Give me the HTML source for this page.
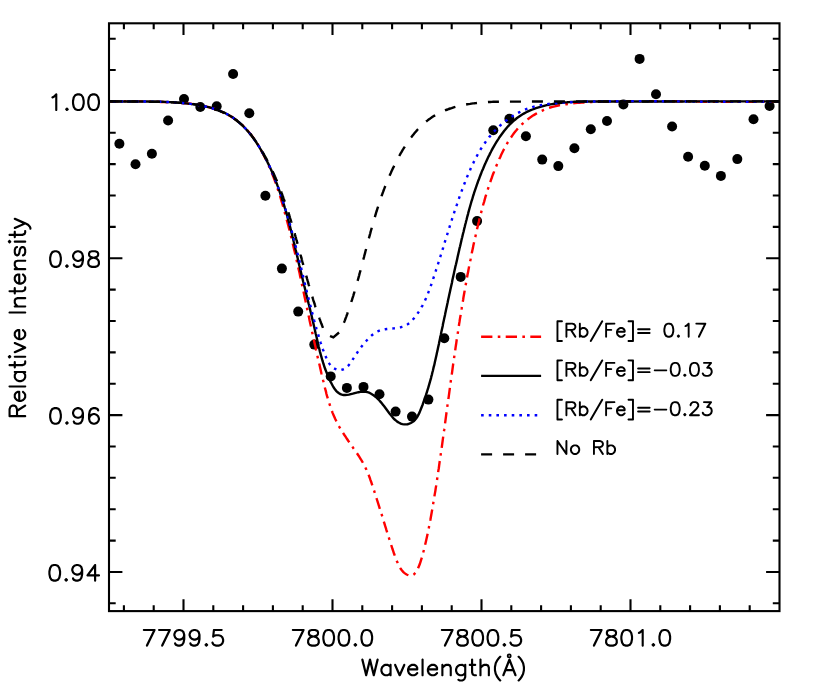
<!DOCTYPE html>
<html><head><meta charset="utf-8"><title>Rb plot</title>
<style>html,body{margin:0;padding:0;background:#fff;font-family:"Liberation Sans",sans-serif}svg{display:block}</style></head>
<body>
<svg width="830" height="692" viewBox="0 0 830 692">
<rect width="830" height="692" fill="#fff"/>
<defs><clipPath id="c"><rect x="109.0" y="23.3" width="670.5" height="587.8"/></clipPath></defs>
<g fill="#000">
<circle cx="119.4" cy="143.8" r="5.0"/>
<circle cx="135.5" cy="164.3" r="5.0"/>
<circle cx="151.9" cy="153.8" r="5.0"/>
<circle cx="168.1" cy="120.5" r="5.0"/>
<circle cx="184.0" cy="99.0" r="5.0"/>
<circle cx="200.3" cy="107.0" r="5.0"/>
<circle cx="216.7" cy="106.2" r="5.0"/>
<circle cx="233.1" cy="74.0" r="5.0"/>
<circle cx="249.3" cy="113.2" r="5.0"/>
<circle cx="265.4" cy="195.7" r="5.0"/>
<circle cx="281.9" cy="268.6" r="5.0"/>
<circle cx="298.2" cy="311.6" r="5.0"/>
<circle cx="314.3" cy="344.6" r="5.0"/>
<circle cx="330.7" cy="376.4" r="5.0"/>
<circle cx="346.9" cy="387.9" r="5.0"/>
<circle cx="363.5" cy="386.9" r="5.0"/>
<circle cx="379.5" cy="394.2" r="5.0"/>
<circle cx="395.6" cy="411.6" r="5.0"/>
<circle cx="412.0" cy="416.6" r="5.0"/>
<circle cx="428.4" cy="399.6" r="5.0"/>
<circle cx="444.3" cy="338.2" r="5.0"/>
<circle cx="460.7" cy="276.9" r="5.0"/>
<circle cx="477.1" cy="221.1" r="5.0"/>
<circle cx="493.3" cy="130.2" r="5.0"/>
<circle cx="509.4" cy="118.8" r="5.0"/>
<circle cx="525.9" cy="136.2" r="5.0"/>
<circle cx="542.2" cy="159.6" r="5.0"/>
<circle cx="558.3" cy="166.1" r="5.0"/>
<circle cx="574.4" cy="148.2" r="5.0"/>
<circle cx="590.8" cy="129.2" r="5.0"/>
<circle cx="607.0" cy="121.0" r="5.0"/>
<circle cx="623.4" cy="104.5" r="5.0"/>
<circle cx="639.6" cy="58.9" r="5.0"/>
<circle cx="656.0" cy="94.2" r="5.0"/>
<circle cx="672.1" cy="126.5" r="5.0"/>
<circle cx="688.1" cy="156.7" r="5.0"/>
<circle cx="704.8" cy="165.8" r="5.0"/>
<circle cx="720.9" cy="175.9" r="5.0"/>
<circle cx="737.3" cy="159.1" r="5.0"/>
<circle cx="753.5" cy="119.2" r="5.0"/>
<circle cx="769.6" cy="106.0" r="5.0"/>
</g>
<g fill="none" stroke-width="2.40" clip-path="url(#c)">
<path d="M109.0 101.5L111.3 101.5L113.6 101.4L115.8 101.4L118.1 101.4L120.4 101.4L122.7 101.3L124.9 101.3L127.2 101.3L129.5 101.3L131.8 101.4L134.0 101.4L136.3 101.4L138.6 101.4L140.8 101.4L143.1 101.5L145.4 101.5L147.6 101.6L149.9 101.6L152.2 101.7L154.4 101.7L156.7 101.8L159.0 101.9L161.2 102.0L163.5 102.0L165.8 102.1L168.1 102.2L170.3 102.3L172.6 102.4L174.9 102.5L177.2 102.7L179.4 102.8L181.7 103.0L184.0 103.1L186.3 103.3L188.5 103.6L190.8 103.8L193.0 104.1L195.3 104.4L197.5 104.8L199.8 105.1L202.0 105.6L204.2 106.1L206.4 106.6L208.6 107.1L210.8 107.8L213.0 108.4L215.2 109.2L217.3 109.9L219.4 110.8L221.5 111.7L223.6 112.6L225.6 113.6L227.6 114.7L229.6 115.8L231.6 116.9L233.5 118.1L235.3 119.4L237.2 120.8L238.9 122.1L240.7 123.6L242.4 125.1L244.0 126.7L245.6 128.3L247.1 129.9L248.6 131.7L250.0 133.4L251.4 135.2L252.8 137.0L254.1 138.9L255.4 140.8L256.7 142.7L257.9 144.7L259.0 146.6L260.2 148.6L261.3 150.6L262.4 152.6L263.5 154.6L264.5 156.6L265.5 158.7L266.5 160.7L267.5 162.8L268.4 164.8L269.3 166.9L270.2 169.0L271.1 171.1L272.0 173.2L272.8 175.3L273.6 177.4L274.4 179.5L275.2 181.7L275.9 183.8L276.7 185.9L277.4 188.1L278.1 190.2L278.8 192.4L279.5 194.5L280.2 196.7L280.9 198.9L281.5 201.1L282.2 203.2L282.8 205.4L283.4 207.6L284.0 209.8L284.6 212.0L285.2 214.2L285.8 216.4L286.4 218.6L287.0 220.7L287.6 222.9L288.2 225.1L288.7 227.3L289.3 229.5L289.9 231.8L290.4 234.0L291.0 236.2L291.5 238.4L292.0 240.6L292.6 242.8L293.1 245.0L293.6 247.2L294.1 249.4L294.7 251.7L295.2 253.9L295.7 256.1L296.2 258.3L296.7 260.5L297.2 262.7L297.7 265.0L298.2 267.2L298.7 269.4L299.2 271.6L299.7 273.8L300.1 276.1L300.6 278.3L301.1 280.5L301.6 282.7L302.1 285.0L302.5 287.2L303.0 289.4L303.5 291.6L304.0 293.9L304.4 296.1L304.9 298.3L305.4 300.5L305.9 302.8L306.3 305.0L306.8 307.2L307.3 309.4L307.7 311.6L308.2 313.9L308.7 316.1L309.2 318.3L309.6 320.5L310.1 322.7L310.6 324.9L311.1 327.2L311.6 329.4L312.0 331.6L312.5 333.8L313.0 336.0L313.5 338.2L314.0 340.5L314.5 342.7L315.0 344.9L315.5 347.1L315.9 349.3L316.4 351.5L316.9 353.7L317.4 356.0L317.9 358.2L318.5 360.4L319.0 362.6L319.5 364.8L320.0 367.0L320.5 369.2L321.0 371.5L321.5 373.7L322.1 375.9L322.6 378.1L323.1 380.3L323.7 382.6L324.2 384.8L324.7 387.0L325.3 389.2L325.9 391.4L326.4 393.7L327.0 395.9L327.7 398.1L328.3 400.2L329.0 402.4L329.7 404.6L330.4 406.7L331.1 408.9L331.9 411.0L332.7 413.1L333.6 415.2L334.5 417.3L335.4 419.3L336.4 421.3L337.4 423.3L338.5 425.3L339.6 427.3L340.8 429.2L342.0 431.2L343.2 433.1L344.4 435.0L345.7 436.9L346.9 438.8L348.2 440.7L349.5 442.5L350.8 444.4L352.1 446.3L353.4 448.2L354.7 450.0L356.0 451.9L357.3 453.8L358.6 455.7L359.8 457.6L361.0 459.5L362.1 461.4L363.3 463.4L364.3 465.4L365.3 467.4L366.3 469.4L367.2 471.5L368.1 473.5L368.9 475.6L369.7 477.7L370.4 479.9L371.2 482.0L371.9 484.2L372.6 486.4L373.3 488.6L374.1 490.7L374.8 492.9L375.5 495.1L376.2 497.3L376.9 499.5L377.6 501.7L378.3 503.9L379.0 506.1L379.7 508.3L380.4 510.5L381.1 512.6L381.8 514.8L382.4 516.9L383.1 519.1L383.7 521.2L384.4 523.3L385.0 525.4L385.7 527.5L386.3 529.6L387.0 531.8L387.6 533.9L388.3 536.0L389.0 538.1L389.7 540.3L390.4 542.4L391.1 544.6L391.8 546.8L392.5 549.0L393.3 551.3L394.0 553.5L394.8 555.8L395.7 558.1L396.5 560.4L397.5 562.6L398.4 564.8L399.5 566.9L400.7 568.8L402.0 570.5L403.4 572.1L404.9 573.4L406.6 574.5L408.5 575.3L410.4 575.6L412.3 575.4L414.0 574.3L415.5 572.7L416.8 570.6L418.0 568.4L418.9 566.2L419.8 564.0L420.5 561.8L421.2 559.6L421.9 557.4L422.5 555.1L423.1 552.9L423.7 550.7L424.3 548.5L424.8 546.3L425.3 544.1L425.8 541.9L426.3 539.7L426.8 537.5L427.3 535.2L427.8 533.0L428.2 530.8L428.7 528.6L429.1 526.4L429.5 524.2L429.9 521.9L430.4 519.7L430.8 517.5L431.2 515.3L431.6 513.0L432.0 510.8L432.4 508.6L432.8 506.3L433.1 504.1L433.5 501.8L433.9 499.6L434.3 497.4L434.6 495.1L435.0 492.9L435.4 490.6L435.7 488.4L436.1 486.1L436.4 483.9L436.8 481.7L437.1 479.4L437.4 477.2L437.8 474.9L438.1 472.7L438.4 470.4L438.8 468.2L439.1 465.9L439.4 463.6L439.7 461.4L440.1 459.1L440.4 456.9L440.7 454.6L441.0 452.4L441.3 450.1L441.7 447.9L442.0 445.6L442.3 443.4L442.6 441.1L442.9 438.9L443.2 436.6L443.5 434.4L443.8 432.1L444.2 429.9L444.5 427.6L444.8 425.4L445.1 423.1L445.4 420.8L445.7 418.6L446.0 416.3L446.3 414.1L446.6 411.8L446.9 409.6L447.2 407.3L447.5 405.1L447.8 402.8L448.1 400.6L448.5 398.3L448.8 396.1L449.1 393.8L449.4 391.6L449.7 389.3L450.0 387.1L450.3 384.8L450.6 382.6L450.9 380.3L451.2 378.1L451.6 375.8L451.9 373.6L452.2 371.3L452.5 369.1L452.8 366.8L453.1 364.6L453.5 362.3L453.8 360.1L454.1 357.8L454.4 355.6L454.8 353.3L455.1 351.1L455.4 348.8L455.7 346.6L456.1 344.3L456.4 342.1L456.7 339.8L457.1 337.6L457.4 335.4L457.8 333.1L458.1 330.9L458.4 328.6L458.8 326.4L459.1 324.1L459.5 321.9L459.8 319.6L460.2 317.4L460.6 315.1L460.9 312.9L461.3 310.7L461.7 308.4L462.0 306.2L462.4 303.9L462.8 301.7L463.2 299.4L463.5 297.2L463.9 295.0L464.3 292.7L464.7 290.5L465.1 288.2L465.5 286.0L465.9 283.8L466.3 281.5L466.7 279.3L467.1 277.1L467.5 274.8L468.0 272.6L468.4 270.3L468.8 268.1L469.2 265.9L469.7 263.7L470.1 261.4L470.6 259.2L471.0 257.0L471.5 254.7L471.9 252.5L472.4 250.3L472.9 248.1L473.3 245.8L473.8 243.6L474.3 241.4L474.8 239.2L475.3 237.0L475.8 234.8L476.3 232.5L476.8 230.3L477.3 228.1L477.8 225.9L478.3 223.7L478.9 221.5L479.4 219.3L480.0 217.1L480.5 214.9L481.1 212.7L481.7 210.5L482.2 208.3L482.8 206.1L483.4 204.0L484.1 201.8L484.7 199.6L485.3 197.4L486.0 195.2L486.6 193.1L487.3 190.9L488.0 188.8L488.7 186.6L489.4 184.4L490.2 182.3L490.9 180.2L491.7 178.0L492.4 175.9L493.2 173.8L494.1 171.6L494.9 169.5L495.7 167.4L496.6 165.3L497.5 163.2L498.4 161.1L499.3 159.0L500.3 156.9L501.2 154.8L502.2 152.8L503.2 150.7L504.3 148.7L505.4 146.7L506.5 144.7L507.6 142.7L508.8 140.8L510.0 138.8L511.3 137.0L512.6 135.1L513.9 133.3L515.3 131.5L516.8 129.8L518.2 128.1L519.8 126.4L521.4 124.8L523.0 123.3L524.7 121.8L526.4 120.3L528.2 118.9L530.1 117.6L531.9 116.3L533.8 115.1L535.8 113.9L537.8 112.8L539.8 111.7L541.8 110.8L543.9 109.9L546.0 109.0L548.2 108.2L550.3 107.5L552.5 106.9L554.7 106.3L557.0 105.8L559.2 105.3L561.4 104.9L563.7 104.5L566.0 104.2L568.2 103.9L570.5 103.6L572.8 103.4L575.0 103.1L577.3 102.9L579.6 102.8L581.8 102.6L584.1 102.5L586.3 102.3L588.6 102.2L590.9 102.1L593.1 102.0L595.4 101.9L597.7 101.8L599.9 101.8L602.2 101.7L604.5 101.6L606.7 101.6L609.0 101.5L611.3 101.4L613.5 101.4L615.8 101.4L618.1 101.3L620.3 101.3L622.6 101.2L624.9 101.2L627.2 101.2L629.4 101.2L631.7 101.2L634.0 101.1L636.2 101.1L638.5 101.1L640.8 101.1L643.1 101.1L645.3 101.1L647.6 101.1L649.9 101.1L652.2 101.1L654.4 101.1L656.7 101.2L659.0 101.2L661.3 101.2L663.5 101.2L665.8 101.2L668.1 101.2L670.4 101.3L672.6 101.3L674.9 101.3L677.2 101.3L679.5 101.4L681.7 101.4L684.0 101.4L686.3 101.4L688.6 101.5L690.9 101.5L693.1 101.5L695.4 101.6L697.7 101.6L700.0 101.6L702.2 101.6L704.5 101.7L706.8 101.7L709.1 101.7L711.3 101.7L713.6 101.8L715.9 101.8L718.2 101.8L720.4 101.8L722.7 101.9L725.0 101.9L727.3 101.9L729.5 101.9L731.8 101.9L734.1 101.9L736.4 101.9L738.6 101.9L740.9 101.9L743.2 101.9L745.5 101.9L747.7 101.9L750.0 101.9L752.3 101.9L754.5 101.9L756.8 101.9L759.1 101.8L761.4 101.8L763.6 101.8L765.9 101.7L768.2 101.7L770.4 101.6L772.7 101.6L775.0 101.5L777.2 101.5L779.5 101.4" stroke="#ff0000" stroke-dasharray="11.3 5.35 2.6 5.35" stroke-dashoffset="1.76"/>
<path d="M108.9 101.4L110.8 101.4L112.7 101.5L114.6 101.5L116.5 101.5L118.3 101.5L120.2 101.5L122.1 101.5L123.9 101.5L125.8 101.5L127.6 101.5L129.5 101.5L131.3 101.5L133.2 101.5L135.0 101.5L136.9 101.5L138.7 101.5L140.5 101.5L142.4 101.5L144.2 101.5L146.0 101.5L147.9 101.5L149.7 101.6L151.5 101.6L153.3 101.6L155.2 101.6L157.0 101.7L158.8 101.7L160.7 101.8L162.5 101.8L164.3 101.9L166.1 102.0L168.0 102.0L169.8 102.1L171.6 102.2L173.5 102.3L175.3 102.5L177.2 102.6L179.0 102.7L180.9 102.9L182.7 103.1L184.6 103.2L186.4 103.4L188.3 103.6L190.2 103.9L192.0 104.1L193.9 104.4L195.8 104.6L197.6 104.9L199.5 105.3L201.3 105.6L203.2 106.0L205.0 106.4L206.8 106.8L208.7 107.2L210.5 107.7L212.3 108.2L214.0 108.8L215.8 109.3L217.5 109.9L219.3 110.6L221.0 111.3L222.6 112.0L224.3 112.7L225.9 113.5L227.5 114.4L229.1 115.3L230.7 116.2L232.2 117.1L233.7 118.2L235.1 119.2L236.6 120.3L238.0 121.5L239.4 122.6L240.7 123.8L242.1 125.1L243.4 126.4L244.6 127.7L245.9 129.0L247.1 130.4L248.3 131.8L249.5 133.2L250.7 134.6L251.8 136.1L252.9 137.6L254.0 139.1L255.1 140.6L256.1 142.2L257.2 143.8L258.2 145.3L259.2 146.9L260.1 148.5L261.1 150.2L262.0 151.8L262.9 153.4L263.8 155.1L264.7 156.7L265.6 158.4L266.4 160.0L267.3 161.7L268.1 163.4L268.9 165.0L269.7 166.7L270.5 168.4L271.2 170.1L272.0 171.8L272.7 173.4L273.4 175.1L274.1 176.8L274.8 178.5L275.5 180.3L276.1 182.0L276.8 183.7L277.4 185.4L278.1 187.1L278.7 188.9L279.3 190.6L279.9 192.3L280.5 194.1L281.1 195.8L281.7 197.5L282.2 199.3L282.8 201.0L283.3 202.8L283.9 204.6L284.4 206.3L284.9 208.1L285.5 209.8L286.0 211.6L286.5 213.4L287.0 215.2L287.5 216.9L287.9 218.7L288.4 220.5L288.9 222.3L289.4 224.1L289.8 225.9L290.3 227.6L290.7 229.4L291.2 231.2L291.6 233.0L292.1 234.8L292.5 236.6L293.0 238.4L293.4 240.2L293.8 242.0L294.3 243.8L294.7 245.6L295.1 247.4L295.5 249.2L296.0 251.0L296.4 252.8L296.8 254.6L297.2 256.4L297.7 258.3L298.1 260.1L298.5 261.9L298.9 263.7L299.3 265.5L299.8 267.3L300.2 269.1L300.6 270.9L301.1 272.7L301.5 274.5L301.9 276.3L302.4 278.1L302.8 279.9L303.2 281.7L303.7 283.5L304.1 285.3L304.6 287.1L305.0 288.9L305.5 290.7L305.9 292.5L306.3 294.3L306.8 296.1L307.2 297.9L307.7 299.7L308.1 301.4L308.5 303.2L309.0 305.0L309.4 306.8L309.9 308.6L310.3 310.4L310.7 312.2L311.2 314.0L311.6 315.8L312.0 317.6L312.4 319.4L312.9 321.2L313.3 323.0L313.7 324.8L314.1 326.5L314.5 328.3L314.9 330.1L315.3 331.9L315.7 333.7L316.2 335.5L316.6 337.3L317.0 339.1L317.4 340.9L317.8 342.7L318.2 344.5L318.6 346.2L319.1 348.0L319.5 349.8L319.9 351.6L320.4 353.4L320.9 355.2L321.4 356.9L321.9 358.7L322.4 360.5L323.0 362.3L323.5 364.0L324.1 365.8L324.7 367.6L325.3 369.3L326.0 371.1L326.7 372.8L327.4 374.6L328.1 376.3L328.9 378.1L329.7 379.8L330.5 381.6L331.4 383.3L332.3 385.0L333.2 386.7L334.2 388.3L335.3 389.7L336.4 391.1L337.7 392.3L339.0 393.3L340.4 394.1L341.9 394.7L343.5 395.0L345.2 395.0L347.0 394.9L348.9 394.6L350.8 394.1L352.8 393.7L354.7 393.1L356.7 392.6L358.5 392.2L360.4 391.9L362.2 391.7L364.0 391.7L365.7 391.8L367.4 392.2L369.1 392.7L370.7 393.5L372.3 394.4L373.9 395.5L375.4 396.7L376.8 397.9L378.1 399.2L379.4 400.5L380.6 401.9L381.8 403.3L382.9 404.7L384.0 406.1L385.1 407.5L386.2 409.0L387.3 410.5L388.4 412.0L389.5 413.5L390.8 415.1L392.0 416.6L393.3 418.1L394.7 419.5L396.1 420.7L397.6 421.9L399.2 422.8L400.7 423.6L402.4 424.1L404.1 424.4L405.8 424.4L407.6 424.2L409.3 423.7L410.9 423.0L412.4 422.1L413.9 421.0L415.1 419.7L416.3 418.3L417.3 416.8L418.2 415.1L419.1 413.4L419.9 411.6L420.6 409.8L421.3 408.0L422.0 406.2L422.7 404.5L423.3 402.7L423.9 400.9L424.6 399.2L425.2 397.4L425.8 395.7L426.3 393.9L426.9 392.2L427.4 390.4L428.0 388.7L428.5 386.9L429.0 385.2L429.5 383.4L430.0 381.7L430.5 379.9L431.0 378.1L431.4 376.3L431.9 374.6L432.3 372.8L432.8 371.0L433.2 369.2L433.6 367.4L434.1 365.7L434.5 363.9L434.9 362.1L435.3 360.3L435.7 358.5L436.1 356.7L436.5 354.9L436.9 353.1L437.3 351.3L437.7 349.4L438.1 347.6L438.5 345.8L438.9 344.0L439.2 342.2L439.6 340.4L440.0 338.6L440.4 336.8L440.8 335.0L441.1 333.1L441.5 331.3L441.9 329.5L442.3 327.7L442.7 325.9L443.0 324.1L443.4 322.3L443.8 320.5L444.2 318.6L444.6 316.8L445.0 315.0L445.3 313.2L445.7 311.4L446.1 309.6L446.5 307.8L446.9 305.9L447.3 304.1L447.7 302.3L448.0 300.5L448.4 298.7L448.8 296.9L449.2 295.1L449.6 293.3L450.0 291.5L450.4 289.6L450.8 287.8L451.2 286.0L451.6 284.2L452.0 282.4L452.3 280.6L452.7 278.8L453.1 277.0L453.5 275.2L453.9 273.4L454.3 271.6L454.7 269.8L455.1 267.9L455.5 266.1L456.0 264.3L456.4 262.5L456.8 260.7L457.2 258.9L457.6 257.1L458.0 255.3L458.4 253.5L458.8 251.7L459.2 249.9L459.6 248.1L460.1 246.3L460.5 244.5L460.9 242.7L461.3 240.9L461.7 239.1L462.2 237.3L462.6 235.5L463.0 233.8L463.5 232.0L463.9 230.2L464.3 228.4L464.8 226.6L465.2 224.8L465.7 223.0L466.1 221.2L466.6 219.5L467.0 217.7L467.5 215.9L468.0 214.1L468.4 212.3L468.9 210.6L469.4 208.8L469.9 207.0L470.4 205.2L470.9 203.5L471.4 201.7L472.0 200.0L472.5 198.2L473.0 196.4L473.6 194.7L474.1 192.9L474.7 191.2L475.3 189.4L475.9 187.7L476.5 185.9L477.1 184.2L477.7 182.5L478.3 180.7L479.0 179.0L479.6 177.3L480.3 175.5L481.0 173.8L481.6 172.1L482.3 170.4L483.1 168.7L483.8 167.0L484.5 165.3L485.3 163.6L486.0 161.9L486.8 160.2L487.6 158.5L488.4 156.8L489.3 155.1L490.1 153.4L491.0 151.8L491.8 150.1L492.7 148.4L493.6 146.8L494.6 145.1L495.5 143.5L496.5 141.9L497.5 140.3L498.5 138.8L499.5 137.2L500.6 135.7L501.7 134.2L502.8 132.7L503.9 131.2L505.1 129.8L506.2 128.4L507.4 127.0L508.7 125.7L509.9 124.3L511.2 123.1L512.5 121.8L513.9 120.6L515.3 119.5L516.7 118.3L518.1 117.3L519.6 116.2L521.1 115.2L522.6 114.3L524.2 113.4L525.8 112.5L527.4 111.7L529.1 110.9L530.8 110.2L532.5 109.5L534.2 108.8L535.9 108.2L537.7 107.6L539.5 107.1L541.2 106.6L543.1 106.1L544.9 105.6L546.7 105.2L548.5 104.8L550.4 104.4L552.2 104.1L554.1 103.8L556.0 103.5L557.8 103.2L559.7 103.0L561.6 102.8L563.4 102.6L565.3 102.4L567.1 102.3L569.0 102.1L570.8 102.0L572.7 101.9L574.5 101.8L576.4 101.7L578.2 101.6L580.0 101.6L581.9 101.6L583.7 101.5L585.5 101.5L587.4 101.5L589.2 101.5L591.0 101.5L592.9 101.5L594.7 101.5L596.5 101.5L598.3 101.5L600.2 101.5L602.0 101.5L603.8 101.5L605.7 101.5L607.5 101.5L609.3 101.5L611.2 101.5L613.0 101.5L614.9 101.5L616.7 101.5L618.5 101.5L620.4 101.5L622.2 101.5L624.1 101.5L625.9 101.5L627.8 101.5L629.6 101.5L631.5 101.5L633.3 101.5L635.1 101.5L637.0 101.5L638.8 101.5L640.7 101.5L642.5 101.5L644.4 101.5L646.3 101.5L648.1 101.5L650.0 101.5L651.8 101.5L653.7 101.5L655.5 101.5L657.4 101.5L659.2 101.5L661.1 101.5L662.9 101.5L664.8 101.5L666.7 101.5L668.5 101.5L670.4 101.5L672.2 101.5L674.1 101.5L675.9 101.5L677.8 101.5L679.7 101.5L681.5 101.5L683.4 101.5L685.2 101.4L687.1 101.4L689.0 101.4L690.8 101.4L692.7 101.4L694.5 101.4L696.4 101.4L698.2 101.4L700.1 101.4L702.0 101.4L703.8 101.4L705.7 101.4L707.5 101.4L709.4 101.4L711.2 101.4L713.1 101.4L715.0 101.4L716.8 101.4L718.7 101.4L720.5 101.4L722.4 101.4L724.2 101.4L726.1 101.4L727.9 101.4L729.8 101.4L731.6 101.4L733.5 101.4L735.3 101.4L737.2 101.4L739.0 101.4L740.9 101.4L742.7 101.4L744.6 101.4L746.4 101.4L748.3 101.4L750.1 101.4L752.0 101.4L753.8 101.4L755.6 101.4L757.5 101.4L759.3 101.4L761.2 101.4L763.0 101.4L764.8 101.4L766.7 101.4L768.5 101.4L770.3 101.4L772.2 101.4L774.0 101.4L775.8 101.4L777.7 101.4L779.5 101.5" stroke="#000"/>
<path d="M108.9 101.4L110.6 101.4L112.3 101.5L114.0 101.5L115.7 101.5L117.4 101.5L119.1 101.5L120.8 101.5L122.5 101.5L124.2 101.5L125.9 101.5L127.5 101.5L129.2 101.5L130.9 101.5L132.6 101.5L134.2 101.5L135.9 101.5L137.6 101.5L139.2 101.5L140.9 101.5L142.5 101.5L144.2 101.5L145.8 101.5L147.5 101.5L149.2 101.6L150.8 101.6L152.5 101.6L154.1 101.6L155.8 101.6L157.4 101.7L159.1 101.7L160.7 101.8L162.4 101.8L164.1 101.9L165.7 101.9L167.4 102.0L169.0 102.1L170.7 102.2L172.4 102.3L174.0 102.4L175.7 102.5L177.4 102.6L179.0 102.7L180.7 102.9L182.4 103.0L184.0 103.2L185.7 103.4L187.4 103.5L189.1 103.7L190.8 103.9L192.5 104.2L194.2 104.4L195.8 104.7L197.5 104.9L199.2 105.2L200.9 105.5L202.6 105.8L204.2 106.2L205.9 106.6L207.5 106.9L209.2 107.4L210.8 107.8L212.4 108.3L214.0 108.8L215.6 109.3L217.2 109.8L218.7 110.4L220.3 111.0L221.8 111.6L223.3 112.3L224.8 113.0L226.3 113.7L227.7 114.5L229.2 115.3L230.6 116.1L231.9 117.0L233.3 117.9L234.6 118.9L235.9 119.8L237.2 120.8L238.5 121.9L239.8 123.0L241.0 124.1L242.2 125.2L243.4 126.3L244.5 127.5L245.7 128.7L246.8 130.0L247.9 131.2L249.0 132.5L250.0 133.8L251.1 135.1L252.1 136.4L253.1 137.8L254.1 139.2L255.1 140.6L256.0 142.0L257.0 143.4L257.9 144.8L258.8 146.2L259.7 147.7L260.6 149.1L261.4 150.6L262.3 152.1L263.1 153.6L263.9 155.1L264.7 156.5L265.5 158.0L266.2 159.5L267.0 161.0L267.7 162.5L268.5 164.1L269.2 165.6L269.9 167.1L270.6 168.6L271.2 170.1L271.9 171.6L272.6 173.2L273.2 174.7L273.9 176.2L274.5 177.8L275.1 179.3L275.7 180.9L276.3 182.4L276.9 184.0L277.5 185.5L278.0 187.1L278.6 188.6L279.2 190.2L279.7 191.8L280.3 193.3L280.8 194.9L281.3 196.5L281.9 198.1L282.4 199.6L282.9 201.2L283.4 202.8L283.9 204.4L284.4 206.0L284.9 207.6L285.4 209.2L285.9 210.8L286.4 212.4L286.9 214.0L287.3 215.6L287.8 217.2L288.3 218.8L288.7 220.4L289.2 222.0L289.7 223.6L290.1 225.2L290.6 226.8L291.0 228.4L291.5 230.0L291.9 231.7L292.3 233.3L292.8 234.9L293.2 236.5L293.6 238.1L294.0 239.8L294.5 241.4L294.9 243.0L295.3 244.6L295.7 246.3L296.1 247.9L296.5 249.5L297.0 251.1L297.4 252.8L297.8 254.4L298.2 256.0L298.6 257.7L299.0 259.3L299.4 260.9L299.8 262.5L300.2 264.2L300.6 265.8L301.0 267.4L301.4 269.1L301.8 270.7L302.2 272.3L302.6 274.0L303.0 275.6L303.4 277.2L303.7 278.8L304.1 280.5L304.5 282.1L304.9 283.7L305.3 285.4L305.7 287.0L306.1 288.6L306.5 290.2L306.9 291.9L307.3 293.5L307.7 295.1L308.1 296.7L308.5 298.3L308.9 300.0L309.3 301.6L309.7 303.2L310.1 304.8L310.6 306.4L311.0 308.0L311.4 309.6L311.8 311.2L312.2 312.8L312.6 314.4L313.1 316.0L313.5 317.6L313.9 319.2L314.3 320.8L314.8 322.4L315.2 324.0L315.7 325.6L316.1 327.2L316.5 328.8L317.0 330.4L317.5 332.0L317.9 333.5L318.4 335.1L318.8 336.7L319.3 338.3L319.8 339.9L320.3 341.5L320.8 343.1L321.4 344.7L321.9 346.3L322.5 347.9L323.0 349.6L323.6 351.2L324.2 352.9L324.9 354.6L325.6 356.3L326.3 357.9L327.0 359.5L327.8 361.1L328.6 362.6L329.5 363.9L330.5 365.2L331.6 366.4L332.7 367.4L333.9 368.3L335.2 369.0L336.6 369.5L338.1 369.9L339.6 370.0L341.2 369.9L342.7 369.5L344.2 368.9L345.6 368.0L346.9 367.0L348.1 365.8L349.3 364.5L350.4 363.1L351.4 361.7L352.3 360.2L353.3 358.7L354.2 357.3L355.1 355.8L356.0 354.4L357.0 353.0L357.9 351.6L358.9 350.3L359.8 348.9L360.8 347.6L361.8 346.3L362.8 345.0L363.8 343.7L364.9 342.5L366.0 341.2L367.1 340.0L368.3 338.7L369.4 337.5L370.7 336.3L371.9 335.2L373.2 334.2L374.6 333.2L376.0 332.3L377.4 331.5L378.9 330.8L380.4 330.2L382.0 329.8L383.6 329.5L385.3 329.2L386.9 329.0L388.6 328.8L390.3 328.7L392.0 328.5L393.7 328.4L395.4 328.2L397.1 327.9L398.8 327.6L400.5 327.3L402.1 326.8L403.7 326.3L405.2 325.7L406.6 324.9L408.0 324.1L409.4 323.1L410.6 322.0L411.8 320.8L412.9 319.5L414.0 318.3L415.1 316.9L416.1 315.6L417.1 314.3L418.0 312.9L418.9 311.5L419.8 310.1L420.7 308.7L421.5 307.2L422.3 305.8L423.1 304.3L423.8 302.8L424.6 301.3L425.3 299.8L426.0 298.3L426.6 296.8L427.3 295.2L427.9 293.7L428.5 292.1L429.1 290.6L429.7 289.0L430.3 287.4L430.8 285.8L431.4 284.3L431.9 282.7L432.5 281.1L433.0 279.5L433.5 277.9L434.1 276.3L434.6 274.7L435.1 273.1L435.6 271.5L436.1 269.9L436.7 268.3L437.2 266.7L437.7 265.1L438.2 263.5L438.7 261.9L439.2 260.3L439.7 258.7L440.2 257.1L440.7 255.5L441.2 254.0L441.7 252.4L442.2 250.8L442.7 249.2L443.2 247.6L443.6 246.0L444.1 244.4L444.6 242.8L445.1 241.2L445.6 239.6L446.1 238.0L446.6 236.4L447.1 234.8L447.6 233.2L448.1 231.6L448.6 230.0L449.1 228.4L449.6 226.8L450.1 225.2L450.6 223.6L451.1 222.1L451.6 220.5L452.1 218.9L452.6 217.3L453.2 215.7L453.7 214.1L454.2 212.5L454.7 210.9L455.2 209.4L455.8 207.8L456.3 206.2L456.9 204.6L457.4 203.0L457.9 201.5L458.5 199.9L459.0 198.3L459.6 196.7L460.2 195.2L460.7 193.6L461.3 192.0L461.9 190.4L462.5 188.9L463.1 187.3L463.6 185.7L464.2 184.2L464.9 182.6L465.5 181.1L466.1 179.5L466.7 177.9L467.3 176.4L468.0 174.8L468.6 173.3L469.3 171.8L470.0 170.2L470.6 168.7L471.3 167.2L472.0 165.6L472.7 164.1L473.5 162.6L474.2 161.1L475.0 159.6L475.7 158.1L476.5 156.7L477.3 155.2L478.1 153.7L478.9 152.3L479.8 150.9L480.6 149.4L481.5 148.0L482.4 146.6L483.3 145.2L484.3 143.8L485.2 142.5L486.2 141.1L487.2 139.8L488.2 138.5L489.2 137.1L490.3 135.9L491.4 134.6L492.5 133.3L493.6 132.1L494.8 130.8L495.9 129.6L497.1 128.4L498.3 127.3L499.5 126.1L500.8 125.0L502.0 123.9L503.3 122.8L504.6 121.7L505.9 120.7L507.3 119.7L508.6 118.7L510.0 117.7L511.4 116.8L512.8 115.9L514.2 115.0L515.6 114.2L517.1 113.4L518.6 112.6L520.0 111.9L521.5 111.1L523.0 110.5L524.5 109.8L526.1 109.2L527.6 108.7L529.2 108.1L530.7 107.6L532.3 107.1L533.9 106.7L535.5 106.3L537.1 105.9L538.7 105.5L540.4 105.2L542.0 104.9L543.6 104.6L545.3 104.4L546.9 104.1L548.6 103.9L550.3 103.7L551.9 103.5L553.6 103.4L555.3 103.2L557.0 103.1L558.6 102.9L560.3 102.8L562.0 102.7L563.7 102.6L565.4 102.5L567.1 102.4L568.8 102.4L570.5 102.3L572.2 102.2L573.9 102.2L575.5 102.1L577.2 102.0L578.9 102.0L580.6 101.9L582.3 101.8L584.0 101.8L585.7 101.7L587.3 101.7L589.0 101.6L590.7 101.6L592.4 101.6L594.1 101.5L595.7 101.5L597.4 101.4L599.1 101.4L600.8 101.4L602.5 101.3L604.1 101.3L605.8 101.3L607.5 101.3L609.2 101.2L610.8 101.2L612.5 101.2L614.2 101.2L615.8 101.2L617.5 101.2L619.2 101.1L620.9 101.1L622.5 101.1L624.2 101.1L625.9 101.1L627.5 101.1L629.2 101.1L630.9 101.1L632.5 101.1L634.2 101.1L635.9 101.1L637.5 101.1L639.2 101.1L640.9 101.1L642.5 101.1L644.2 101.1L645.9 101.1L647.5 101.1L649.2 101.1L650.9 101.1L652.5 101.2L654.2 101.2L655.8 101.2L657.5 101.2L659.2 101.2L660.8 101.2L662.5 101.2L664.2 101.3L665.8 101.3L667.5 101.3L669.2 101.3L670.8 101.3L672.5 101.3L674.1 101.4L675.8 101.4L677.5 101.4L679.1 101.4L680.8 101.4L682.5 101.4L684.1 101.5L685.8 101.5L687.4 101.5L689.1 101.5L690.8 101.5L692.4 101.6L694.1 101.6L695.8 101.6L697.4 101.6L699.1 101.6L700.8 101.7L702.4 101.7L704.1 101.7L705.7 101.7L707.4 101.7L709.1 101.7L710.7 101.7L712.4 101.8L714.1 101.8L715.7 101.8L717.4 101.8L719.1 101.8L720.8 101.8L722.4 101.8L724.1 101.8L725.8 101.9L727.4 101.9L729.1 101.9L730.8 101.9L732.4 101.9L734.1 101.9L735.8 101.9L737.5 101.9L739.1 101.9L740.8 101.9L742.5 101.9L744.2 101.9L745.8 101.9L747.5 101.9L749.2 101.9L750.9 101.8L752.6 101.8L754.2 101.8L755.9 101.8L757.6 101.8L759.3 101.8L761.0 101.8L762.6 101.7L764.3 101.7L766.0 101.7L767.7 101.7L769.4 101.6L771.1 101.6L772.8 101.6L774.5 101.5L776.1 101.5L777.8 101.5L779.5 101.4" stroke="#0000ff" stroke-dasharray="2.6 5.05" stroke-dashoffset="3.71"/>
<path d="M109.0 101.4L109.9 101.4L110.8 101.4L111.7 101.4L112.6 101.4L113.5 101.4L114.4 101.4L115.3 101.4L116.3 101.4L117.2 101.4L118.1 101.4L119.0 101.4L119.9 101.4L120.8 101.4L121.7 101.4L122.6 101.4L123.5 101.4L124.4 101.4L125.3 101.4L126.2 101.4L127.1 101.5L128.0 101.5L128.9 101.5L129.7 101.5L130.6 101.5L131.5 101.5L132.4 101.5L133.3 101.5L134.2 101.5L135.1 101.5L136.0 101.5L136.9 101.5L137.8 101.5L138.7 101.5L139.6 101.5L140.5 101.5L141.4 101.5L142.3 101.6L143.2 101.6L144.1 101.6L145.0 101.6L145.9 101.6L146.8 101.6L147.6 101.6L148.5 101.6L149.4 101.7L150.3 101.7L151.2 101.7L152.1 101.7L153.0 101.7L153.9 101.7L154.8 101.8L155.7 101.8L156.6 101.8L157.5 101.8L158.4 101.8L159.3 101.9L160.2 101.9L161.1 101.9L162.0 101.9L162.9 102.0L163.8 102.0L164.7 102.0L165.6 102.1L166.5 102.1L167.4 102.1L168.3 102.2L169.2 102.2L170.1 102.2L171.0 102.3L171.9 102.3L172.8 102.3L173.7 102.4L174.6 102.4L175.5 102.5L176.5 102.5L177.4 102.6L178.3 102.6L179.2 102.7L180.1 102.7L181.0 102.8L181.9 102.9L182.8 102.9L183.7 103.0L184.6 103.1L185.5 103.2L186.4 103.3L187.3 103.3L188.2 103.4L189.1 103.5L190.0 103.6L190.9 103.7L191.8 103.9L192.7 104.0L193.6 104.1L194.5 104.2L195.4 104.4L196.3 104.5L197.2 104.6L198.1 104.8L199.0 104.9L199.9 105.1L200.8 105.3L201.6 105.5L202.5 105.6L203.4 105.8L204.3 106.0L205.2 106.2L206.0 106.4L206.9 106.7L207.8 106.9L208.6 107.1L209.5 107.4L210.4 107.6L211.2 107.9L212.1 108.1L212.9 108.4L213.8 108.7L214.6 109.0L215.5 109.3L216.3 109.6L217.2 109.9L218.0 110.2L218.8 110.6L219.7 110.9L220.5 111.3L221.3 111.6L222.1 112.0L222.9 112.4L223.7 112.7L224.5 113.1L225.3 113.5L226.1 114.0L226.9 114.4L227.7 114.8L228.5 115.2L229.3 115.7L230.0 116.1L230.8 116.6L231.6 117.1L232.3 117.5L233.1 118.0L233.8 118.5L234.5 119.0L235.3 119.5L236.0 120.0L236.7 120.6L237.4 121.1L238.1 121.7L238.8 122.2L239.5 122.8L240.2 123.4L240.8 123.9L241.5 124.5L242.2 125.1L242.8 125.7L243.5 126.4L244.1 127.0L244.7 127.6L245.3 128.3L246.0 128.9L246.6 129.6L247.2 130.2L247.8 130.9L248.4 131.6L248.9 132.3L249.5 132.9L250.1 133.6L250.7 134.3L251.2 135.1L251.8 135.8L252.3 136.5L252.9 137.2L253.4 137.9L253.9 138.7L254.5 139.4L255.0 140.1L255.5 140.9L256.0 141.6L256.5 142.4L257.0 143.2L257.5 143.9L258.0 144.7L258.5 145.4L259.0 146.2L259.5 147.0L260.0 147.8L260.4 148.5L260.9 149.3L261.4 150.1L261.8 150.9L262.3 151.6L262.7 152.4L263.2 153.2L263.7 154.0L264.1 154.8L264.5 155.6L265.0 156.4L265.4 157.2L265.8 157.9L266.3 158.7L266.7 159.5L267.1 160.3L267.5 161.1L268.0 161.9L268.4 162.7L268.8 163.5L269.2 164.3L269.6 165.1L270.0 165.9L270.4 166.8L270.8 167.6L271.2 168.4L271.6 169.2L272.0 170.0L272.3 170.8L272.7 171.6L273.1 172.4L273.5 173.3L273.8 174.1L274.2 174.9L274.6 175.7L274.9 176.5L275.3 177.4L275.7 178.2L276.0 179.0L276.4 179.8L276.7 180.6L277.1 181.5L277.4 182.3L277.8 183.1L278.1 184.0L278.4 184.8L278.8 185.6L279.1 186.5L279.4 187.3L279.8 188.1L280.1 189.0L280.4 189.8L280.7 190.6L281.1 191.5L281.4 192.3L281.7 193.2L282.0 194.0L282.3 194.8L282.6 195.7L282.9 196.5L283.2 197.4L283.5 198.2L283.8 199.1L284.1 199.9L284.4 200.7L284.7 201.6L285.0 202.4L285.3 203.3L285.6 204.1L285.9 205.0L286.2 205.8L286.5 206.7L286.8 207.5L287.0 208.4L287.3 209.3L287.6 210.1L287.9 211.0L288.2 211.8L288.4 212.7L288.7 213.5L289.0 214.4L289.2 215.2L289.5 216.1L289.8 217.0L290.0 217.8L290.3 218.7L290.6 219.5L290.8 220.4L291.1 221.3L291.4 222.1L291.6 223.0L291.9 223.9L292.1 224.7L292.4 225.6L292.6 226.4L292.9 227.3L293.1 228.2L293.4 229.0L293.6 229.9L293.9 230.8L294.1 231.6L294.4 232.5L294.6 233.4L294.9 234.2L295.1 235.1L295.4 236.0L295.6 236.8L295.9 237.7L296.1 238.6L296.3 239.4L296.6 240.3L296.8 241.2L297.1 242.1L297.3 242.9L297.5 243.8L297.8 244.7L298.0 245.5L298.3 246.4L298.5 247.3L298.7 248.1L299.0 249.0L299.2 249.9L299.4 250.8L299.7 251.6L299.9 252.5L300.2 253.4L300.4 254.2L300.6 255.1L300.9 256.0L301.1 256.9L301.3 257.7L301.6 258.6L301.8 259.5L302.0 260.3L302.3 261.2L302.5 262.1L302.7 262.9L303.0 263.8L303.2 264.7L303.4 265.6L303.7 266.4L303.9 267.3L304.2 268.2L304.4 269.0L304.6 269.9L304.9 270.8L305.1 271.6L305.3 272.5L305.6 273.4L305.8 274.2L306.1 275.1L306.3 276.0L306.5 276.9L306.8 277.7L307.0 278.6L307.3 279.5L307.5 280.3L307.8 281.2L308.0 282.0L308.2 282.9L308.5 283.8L308.7 284.6L309.0 285.5L309.2 286.4L309.5 287.2L309.7 288.1L310.0 289.0L310.2 289.8L310.5 290.7L310.7 291.5L311.0 292.4L311.3 293.3L311.5 294.1L311.8 295.0L312.0 295.8L312.3 296.7L312.6 297.6L312.8 298.4L313.1 299.3L313.3 300.1L313.6 301.0L313.9 301.8L314.2 302.7L314.4 303.5L314.7 304.4L315.0 305.2L315.2 306.1L315.5 307.0L315.8 307.8L316.1 308.7L316.4 309.5L316.7 310.3L316.9 311.2L317.2 312.0L317.5 312.9L317.8 313.7L318.1 314.6L318.4 315.4L318.7 316.3L319.0 317.1L319.3 317.9L319.6 318.8L319.9 319.6L320.2 320.5L320.5 321.3L320.8 322.1L321.1 323.0L321.4 323.8L321.8 324.6L322.1 325.5L322.4 326.3L322.7 327.1L323.0 328.0L327.4 334.6L330.4 336.1L333.3 337.3L339.4 332.2L344.2 322.0L344.8 320.6L345.3 319.3L345.8 317.9L346.3 316.6L346.8 315.2L347.3 313.9L347.7 312.5L348.2 311.2L348.7 309.8L349.2 308.4L349.6 307.1L350.1 305.7L350.5 304.4L351.0 303.0L351.4 301.6L351.9 300.2L352.3 298.9L352.7 297.5L353.2 296.1L353.6 294.7L354.0 293.4L354.4 292.0L354.8 290.6L355.2 289.2L355.6 287.8L356.0 286.4L356.4 285.0L356.8 283.7L357.2 282.3L357.6 280.9L358.0 279.5L358.4 278.1L358.8 276.7L359.2 275.3L359.5 273.9L359.9 272.5L360.3 271.1L360.7 269.7L361.0 268.3L361.4 266.9L361.8 265.5L362.1 264.1L362.5 262.7L362.9 261.3L363.2 259.9L363.6 258.5L364.0 257.1L364.3 255.7L364.7 254.3L365.1 252.9L365.4 251.5L365.8 250.1L366.2 248.7L366.5 247.3L366.9 245.9L367.3 244.5L367.6 243.1L368.0 241.7L368.4 240.3L368.7 238.9L369.1 237.5L369.5 236.1L369.9 234.7L370.3 233.3L370.6 231.9L371.0 230.5L371.4 229.1L371.8 227.7L372.2 226.3L372.6 224.9L373.0 223.5L373.4 222.1L373.8 220.7L374.2 219.3L374.6 218.0L375.0 216.6L375.4 215.2L375.8 213.8L376.2 212.4L376.7 211.0L377.1 209.7L377.5 208.3L378.0 206.9L378.4 205.5L378.9 204.2L379.3 202.8L379.8 201.4L380.2 200.0L380.7 198.7L381.2 197.3L381.6 196.0L382.1 194.6L382.6 193.2L383.1 191.9L383.6 190.5L384.1 189.2L384.6 187.8L385.1 186.5L385.7 185.1L386.2 183.8L386.7 182.5L387.3 181.1L387.8 179.8L388.4 178.5L389.0 177.1L389.5 175.8L390.1 174.5L390.7 173.2L391.3 171.8L391.9 170.5L392.5 169.2L393.1 167.9L393.8 166.6L394.4 165.3L395.0 164.0L395.7 162.7L396.3 161.4L397.0 160.1L397.7 158.8L398.4 157.5L399.1 156.3L399.8 155.0L400.5 153.7L401.2 152.5L402.0 151.2L402.7 149.9L403.5 148.7L404.3 147.4L405.0 146.2L405.8 145.0L406.6 143.8L407.4 142.6L408.3 141.4L409.1 140.2L410.0 139.0L410.8 137.8L411.7 136.7L412.6 135.5L413.5 134.4L414.4 133.3L415.3 132.2L416.3 131.1L417.2 130.0L418.2 129.0L419.2 128.0L420.2 126.9L421.2 125.9L422.2 125.0L423.3 124.0L424.3 123.1L425.4 122.1L426.5 121.2L427.6 120.4L428.7 119.5L429.9 118.7L431.0 117.9L432.2 117.1L433.4 116.3L434.6 115.6L435.8 114.9L437.0 114.2L438.3 113.5L439.6 112.9L440.9 112.2L442.2 111.6L443.5 111.1L444.8 110.5L446.1 110.0L447.5 109.5L448.8 109.0L450.2 108.5L451.6 108.1L453.0 107.6L454.4 107.2L455.8 106.8L457.2 106.5L458.6 106.1L460.0 105.8L461.5 105.5L462.9 105.1L464.3 104.9L465.8 104.6L467.2 104.3L468.6 104.1L470.1 103.9L471.5 103.6L473.0 103.4L474.4 103.3L475.9 103.1L477.3 102.9L478.7 102.8L480.2 102.6L481.6 102.5L483.1 102.4L484.5 102.3L486.0 102.2L487.4 102.1L488.9 102.0L490.3 102.0L491.8 101.9L493.2 101.8L494.7 101.8L496.1 101.7L497.6 101.7L499.0 101.7L500.5 101.6L501.9 101.6L503.4 101.6L504.8 101.6L506.3 101.6L507.7 101.6L509.2 101.6L510.6 101.6L512.1 101.6L513.5 101.6L515.0 101.6L516.4 101.6L517.9 101.6L519.3 101.6L520.8 101.6L522.2 101.6L523.7 101.6L525.1 101.6L526.6 101.6L528.0 101.6L529.5 101.6L530.9 101.5L532.4 101.5L533.8 101.5L535.3 101.5L536.7 101.5L538.2 101.5L539.6 101.5L541.1 101.5L542.5 101.5L544.0 101.5L545.4 101.5L546.9 101.5L548.3 101.5L549.8 101.5L551.2 101.5L552.7 101.5L554.1 101.5L555.5 101.5L557.0 101.5L558.4 101.5L559.9 101.5L561.3 101.5L562.8 101.5L564.2 101.5L565.7 101.5L567.1 101.5L568.6 101.5L570.0 101.5L571.4 101.5L572.9 101.5L574.3 101.5L575.8 101.5L577.2 101.5L578.7 101.5L580.1 101.5L581.6 101.5L583.0 101.5L584.4 101.5L585.9 101.5L587.3 101.5L588.8 101.5L590.2 101.5L591.7 101.5L593.1 101.5L594.6 101.5L596.0 101.5L597.4 101.5L598.9 101.5L600.3 101.5L601.8 101.5L603.2 101.5L604.7 101.5L606.1 101.5L607.5 101.5L609.0 101.5L610.4 101.5L611.9 101.5L613.3 101.5L614.8 101.5L616.2 101.5L617.6 101.5L619.1 101.5L620.5 101.5L622.0 101.5L623.4 101.5L624.9 101.5L626.3 101.5L627.7 101.5L629.2 101.5L630.6 101.5L632.1 101.5L633.5 101.5L635.0 101.5L636.4 101.5L637.8 101.5L639.3 101.5L640.7 101.5L642.2 101.5L643.6 101.5L645.1 101.5L646.5 101.5L647.9 101.5L649.4 101.4L650.8 101.4L652.3 101.4L653.7 101.4L655.2 101.4L656.6 101.4L658.0 101.4L659.5 101.4L660.9 101.4L662.4 101.4L663.8 101.4L665.3 101.4L666.7 101.4L668.1 101.4L669.6 101.4L671.0 101.4L672.5 101.4L673.9 101.4L675.4 101.4L676.8 101.4L678.2 101.4L679.7 101.4L681.1 101.4L682.6 101.4L684.0 101.4L685.5 101.4L686.9 101.4L688.3 101.4L689.8 101.4L691.2 101.4L692.7 101.4L694.1 101.4L695.6 101.4L697.0 101.4L698.5 101.4L699.9 101.4L701.3 101.4L702.8 101.4L704.2 101.4L705.7 101.4L707.1 101.4L708.6 101.4L710.0 101.4L711.5 101.4L712.9 101.4L714.3 101.4L715.8 101.4L717.2 101.4L718.7 101.4L720.1 101.4L721.6 101.4L723.0 101.4L724.5 101.4L725.9 101.4L727.4 101.4L728.8 101.4L730.2 101.4L731.7 101.4L733.1 101.4L734.6 101.4L736.0 101.4L737.5 101.4L738.9 101.4L740.4 101.4L741.8 101.4L743.3 101.4L744.7 101.4L746.2 101.4L747.6 101.4L749.1 101.4L750.5 101.4L752.0 101.4L753.4 101.4L754.9 101.4L756.3 101.4L757.8 101.4L759.2 101.4L760.7 101.4L762.1 101.4L763.6 101.4L765.0 101.4L766.5 101.4L767.9 101.4L769.4 101.4L770.8 101.4L772.3 101.4L773.7 101.5L775.2 101.5L776.6 101.5L778.1 101.5L779.5 101.5" stroke="#000" stroke-dasharray="11 11" stroke-dashoffset="3.88"/>
</g>
<g stroke="#000" stroke-width="2.10" fill="none" stroke-linecap="butt">
<rect x="109.0" y="23.3" width="670.5" height="587.8"/>
<path d="M123.9 611.1 v-5.9M123.9 23.3 v5.9M153.7 611.1 v-5.9M153.7 23.3 v5.9M183.5 611.1 v-11.8M183.5 23.3 v11.8M213.3 611.1 v-5.9M213.3 23.3 v5.9M243.1 611.1 v-5.9M243.1 23.3 v5.9M272.9 611.1 v-5.9M272.9 23.3 v5.9M302.7 611.1 v-5.9M302.7 23.3 v5.9M332.5 611.1 v-11.8M332.5 23.3 v11.8M362.3 611.1 v-5.9M362.3 23.3 v5.9M392.1 611.1 v-5.9M392.1 23.3 v5.9M421.9 611.1 v-5.9M421.9 23.3 v5.9M451.7 611.1 v-5.9M451.7 23.3 v5.9M481.5 611.1 v-11.8M481.5 23.3 v11.8M511.3 611.1 v-5.9M511.3 23.3 v5.9M541.1 611.1 v-5.9M541.1 23.3 v5.9M570.9 611.1 v-5.9M570.9 23.3 v5.9M600.7 611.1 v-5.9M600.7 23.3 v5.9M630.5 611.1 v-11.8M630.5 23.3 v11.8M660.3 611.1 v-5.9M660.3 23.3 v5.9M690.1 611.1 v-5.9M690.1 23.3 v5.9M719.9 611.1 v-5.9M719.9 23.3 v5.9M749.7 611.1 v-5.9M749.7 23.3 v5.9M109.0 38.7 h6.7M779.5 38.7 h-6.7M109.0 70.0 h6.7M779.5 70.0 h-6.7M109.0 101.4 h13.4M779.5 101.4 h-13.4M109.0 132.8 h6.7M779.5 132.8 h-6.7M109.0 164.1 h6.7M779.5 164.1 h-6.7M109.0 195.5 h6.7M779.5 195.5 h-6.7M109.0 226.9 h6.7M779.5 226.9 h-6.7M109.0 258.2 h13.4M779.5 258.2 h-13.4M109.0 289.6 h6.7M779.5 289.6 h-6.7M109.0 321.0 h6.7M779.5 321.0 h-6.7M109.0 352.4 h6.7M779.5 352.4 h-6.7M109.0 383.7 h6.7M779.5 383.7 h-6.7M109.0 415.1 h13.4M779.5 415.1 h-13.4M109.0 446.5 h6.7M779.5 446.5 h-6.7M109.0 477.8 h6.7M779.5 477.8 h-6.7M109.0 509.2 h6.7M779.5 509.2 h-6.7M109.0 540.6 h6.7M779.5 540.6 h-6.7M109.0 572.0 h13.4M779.5 572.0 h-13.4M109.0 603.3 h6.7M779.5 603.3 h-6.7"/>
</g>
<g fill="none" stroke-width="2.40">
<path d="M481.1 336.7H541.1" stroke="#f00" stroke-dasharray="11.3 5.35 2.6 5.35"/>
<path d="M481.1 375.9H541.1" stroke="#000"/>
<path d="M481.1 415.2H541.1" stroke="#00f" stroke-dasharray="2.6 5.05"/>
<path d="M481.1 454.4H541.1" stroke="#000" stroke-dasharray="11 11"/>
</g>
<path fill="#000" transform="translate(141.59 645.60)" d="M64.47 -2.53L63.09 -1.34L62.94 -1.04L62.94 -0.45L64.16 0.89L64.47 1.04L65.07 1.04L66.45 -0.15L66.60 -0.45L66.60 -1.04L65.38 -2.38L65.07 -2.53ZM72.09 -16.69L71.48 -16.24L71.25 -15.50L70.56 -9.39L70.56 -8.64L70.71 -8.34L71.32 -7.90L71.93 -7.90L73.00 -8.79L74.83 -9.39L76.81 -9.39L78.64 -8.79L79.86 -7.60L80.47 -5.81L80.47 -4.62L79.86 -2.83L78.64 -1.64L76.81 -1.04L74.83 -1.04L73.00 -1.64L72.47 -2.16L71.78 -3.58L71.17 -4.02L70.56 -4.02L69.95 -3.58L69.80 -3.28L69.88 -2.46L70.71 -0.89L71.78 0.15L74.30 1.04L77.34 1.04L79.86 0.15L81.69 -1.64L82.60 -4.10L82.60 -6.33L81.69 -8.79L79.86 -10.58L77.34 -11.47L74.30 -11.47L73.15 -11.03L72.92 -11.10L73.30 -14.45L73.46 -14.60L80.31 -14.60L80.92 -15.05L81.08 -15.35L81.08 -15.94L80.92 -16.24L80.31 -16.69ZM52.20 -16.69L49.68 -15.79L47.85 -14.01L46.94 -11.55L46.94 -10.06L47.85 -7.60L49.68 -5.81L52.20 -4.92L53.72 -4.92L55.93 -5.66L56.62 -6.18L56.69 -6.11L56.16 -3.43L55.02 -1.71L53.19 -1.04L51.97 -1.04L50.37 -1.56L49.68 -2.83L49.07 -3.28L48.46 -3.28L48.16 -3.13L47.70 -2.53L47.78 -1.71L48.46 -0.37L48.92 0.15L51.44 1.04L53.72 1.04L56.24 0.15L56.62 -0.22L58.22 -2.68L58.98 -6.33L58.98 -10.80L58.06 -14.01L56.24 -15.79L53.72 -16.69ZM52.73 -14.60L53.19 -14.60L55.02 -14.01L56.16 -12.89L56.77 -10.65L56.24 -8.79L55.02 -7.60L53.19 -7.00L52.73 -7.00L50.90 -7.60L49.68 -8.79L49.07 -10.58L49.07 -11.03L49.68 -12.81L50.90 -14.01ZM36.96 -16.69L34.44 -15.79L32.61 -14.01L31.70 -11.55L31.70 -10.06L32.61 -7.60L34.44 -5.81L36.96 -4.92L38.48 -4.92L40.69 -5.66L41.38 -6.18L41.45 -6.11L40.92 -3.43L39.78 -1.71L37.95 -1.04L36.73 -1.04L35.13 -1.56L34.44 -2.83L33.83 -3.28L33.22 -3.28L32.92 -3.13L32.46 -2.53L32.54 -1.71L33.22 -0.37L33.68 0.15L36.20 1.04L38.48 1.04L41.00 0.15L41.38 -0.22L42.98 -2.68L43.74 -6.33L43.74 -10.80L42.82 -14.01L41.00 -15.79L38.48 -16.69ZM37.49 -14.60L37.95 -14.60L39.78 -14.01L40.92 -12.89L41.53 -10.65L41.00 -8.79L39.78 -7.60L37.95 -7.00L37.49 -7.00L35.66 -7.60L34.44 -8.79L33.83 -10.58L33.83 -11.03L34.44 -12.81L35.66 -14.01ZM28.50 -16.69L17.22 -16.69L16.92 -16.54L16.46 -15.94L16.46 -15.35L16.61 -15.05L17.22 -14.60L26.44 -14.53L19.58 -0.52L19.51 0.30L19.66 0.60L20.27 1.04L20.88 1.04L21.64 0.37L29.18 -15.12L29.26 -15.94L29.11 -16.24ZM13.26 -16.69L1.98 -16.69L1.68 -16.54L1.22 -15.94L1.22 -15.35L1.37 -15.05L1.98 -14.60L11.20 -14.53L4.34 -0.52L4.27 0.30L4.42 0.60L5.03 1.04L5.64 1.04L6.40 0.37L13.94 -15.12L14.02 -15.94L13.87 -16.24Z"/>
<path fill="#000" transform="translate(290.59 645.60)" d="M64.47 -2.53L63.09 -1.34L62.94 -1.04L62.94 -0.45L64.16 0.89L64.47 1.04L65.07 1.04L66.45 -0.15L66.60 -0.45L66.60 -1.04L65.38 -2.38L65.07 -2.53ZM75.06 -16.69L72.54 -15.79L72.16 -15.42L70.56 -12.96L69.80 -9.31L69.80 -6.33L70.56 -2.68L72.16 -0.22L72.85 0.30L75.06 1.04L77.34 1.04L79.86 0.15L80.24 -0.22L81.84 -2.68L82.60 -6.33L82.60 -9.31L81.84 -12.96L80.24 -15.42L79.55 -15.94L77.34 -16.69ZM75.67 -14.60L76.81 -14.60L78.64 -13.93L79.78 -12.22L80.47 -8.87L80.47 -6.85L79.78 -3.43L78.56 -1.64L76.81 -1.04L75.59 -1.04L73.76 -1.71L72.62 -3.43L71.93 -6.85L71.93 -8.79L72.62 -12.22L73.84 -14.01ZM52.20 -16.69L49.68 -15.79L49.30 -15.42L47.70 -12.96L46.94 -9.31L46.94 -6.33L47.70 -2.68L49.30 -0.22L49.99 0.30L52.20 1.04L54.48 1.04L57.00 0.15L57.38 -0.22L58.98 -2.68L59.74 -6.33L59.74 -9.31L58.98 -12.96L57.38 -15.42L56.69 -15.94L54.48 -16.69ZM52.81 -14.60L53.95 -14.60L55.78 -13.93L56.92 -12.22L57.61 -8.87L57.61 -6.85L56.92 -3.43L55.70 -1.64L53.95 -1.04L52.73 -1.04L50.90 -1.71L49.76 -3.43L49.07 -6.85L49.07 -8.79L49.76 -12.22L50.98 -14.01ZM36.96 -16.69L34.44 -15.79L34.06 -15.42L32.46 -12.96L31.70 -9.31L31.70 -6.33L32.46 -2.68L34.06 -0.22L34.75 0.30L36.96 1.04L39.24 1.04L41.76 0.15L42.14 -0.22L43.74 -2.68L44.50 -6.33L44.50 -9.31L43.74 -12.96L42.14 -15.42L41.45 -15.94L39.24 -16.69ZM37.57 -14.60L38.71 -14.60L40.54 -13.93L41.68 -12.22L42.37 -8.87L42.37 -6.85L41.68 -3.43L40.46 -1.64L38.71 -1.04L37.49 -1.04L35.66 -1.71L34.52 -3.43L33.83 -6.85L33.83 -8.79L34.52 -12.22L35.74 -14.01ZM20.96 -16.69L18.44 -15.79L17.98 -15.27L17.22 -13.71L17.30 -11.40L18.14 -9.83L19.20 -9.09L17.37 -7.30L16.54 -5.74L16.46 -2.68L17.37 -0.89L18.75 0.30L20.96 1.04L24.77 1.04L27.28 0.15L28.35 -0.89L29.26 -2.68L29.18 -5.74L28.35 -7.30L26.52 -9.09L27.58 -9.83L28.42 -11.40L28.50 -13.71L27.74 -15.27L26.97 -15.94L24.77 -16.69ZM19.13 -6.03L20.42 -7.30L22.78 -8.05L25.30 -7.30L26.59 -6.03L27.05 -5.14L27.05 -3.05L26.59 -2.16L26.06 -1.64L24.23 -1.04L21.49 -1.04L19.66 -1.64L19.13 -2.16L18.59 -3.28L18.59 -4.92ZM19.35 -13.11L19.89 -14.08L21.26 -14.53L24.23 -14.60L25.98 -13.93L26.37 -13.11L26.37 -12.22L25.98 -11.40L25.68 -11.10L24.46 -10.58L22.78 -10.21L21.26 -10.58L20.04 -11.10L19.43 -11.99ZM13.26 -16.69L1.98 -16.69L1.68 -16.54L1.22 -15.94L1.22 -15.35L1.37 -15.05L1.98 -14.60L11.20 -14.53L4.34 -0.52L4.27 0.30L4.42 0.60L5.03 1.04L5.64 1.04L6.40 0.37L13.94 -15.12L14.02 -15.94L13.87 -16.24Z"/>
<path fill="#000" transform="translate(439.59 645.60)" d="M64.47 -2.53L63.09 -1.34L62.94 -1.04L62.94 -0.45L64.16 0.89L64.47 1.04L65.07 1.04L66.45 -0.15L66.60 -0.45L66.60 -1.04L65.38 -2.38L65.07 -2.53ZM72.09 -16.69L71.48 -16.24L71.25 -15.50L70.56 -9.39L70.56 -8.64L70.71 -8.34L71.32 -7.90L71.93 -7.90L73.00 -8.79L74.83 -9.39L76.81 -9.39L78.64 -8.79L79.86 -7.60L80.47 -5.81L80.47 -4.62L79.86 -2.83L78.64 -1.64L76.81 -1.04L74.83 -1.04L73.00 -1.64L72.47 -2.16L71.78 -3.58L71.17 -4.02L70.56 -4.02L69.95 -3.58L69.80 -3.28L69.88 -2.46L70.71 -0.89L71.78 0.15L74.30 1.04L77.34 1.04L79.86 0.15L81.69 -1.64L82.60 -4.10L82.60 -6.33L81.69 -8.79L79.86 -10.58L77.34 -11.47L74.30 -11.47L73.15 -11.03L72.92 -11.10L73.30 -14.45L73.46 -14.60L80.31 -14.60L80.92 -15.05L81.08 -15.35L81.08 -15.94L80.92 -16.24L80.31 -16.69ZM52.20 -16.69L49.68 -15.79L49.30 -15.42L47.70 -12.96L46.94 -9.31L46.94 -6.33L47.70 -2.68L49.30 -0.22L49.99 0.30L52.20 1.04L54.48 1.04L57.00 0.15L57.38 -0.22L58.98 -2.68L59.74 -6.33L59.74 -9.31L58.98 -12.96L57.38 -15.42L56.69 -15.94L54.48 -16.69ZM52.81 -14.60L53.95 -14.60L55.78 -13.93L56.92 -12.22L57.61 -8.87L57.61 -6.85L56.92 -3.43L55.70 -1.64L53.95 -1.04L52.73 -1.04L50.90 -1.71L49.76 -3.43L49.07 -6.85L49.07 -8.79L49.76 -12.22L50.98 -14.01ZM36.96 -16.69L34.44 -15.79L34.06 -15.42L32.46 -12.96L31.70 -9.31L31.70 -6.33L32.46 -2.68L34.06 -0.22L34.75 0.30L36.96 1.04L39.24 1.04L41.76 0.15L42.14 -0.22L43.74 -2.68L44.50 -6.33L44.50 -9.31L43.74 -12.96L42.14 -15.42L41.45 -15.94L39.24 -16.69ZM37.57 -14.60L38.71 -14.60L40.54 -13.93L41.68 -12.22L42.37 -8.87L42.37 -6.85L41.68 -3.43L40.46 -1.64L38.71 -1.04L37.49 -1.04L35.66 -1.71L34.52 -3.43L33.83 -6.85L33.83 -8.79L34.52 -12.22L35.74 -14.01ZM20.96 -16.69L18.44 -15.79L17.98 -15.27L17.22 -13.71L17.30 -11.40L18.14 -9.83L19.20 -9.09L17.37 -7.30L16.54 -5.74L16.46 -2.68L17.37 -0.89L18.75 0.30L20.96 1.04L24.77 1.04L27.28 0.15L28.35 -0.89L29.26 -2.68L29.18 -5.74L28.35 -7.30L26.52 -9.09L27.58 -9.83L28.42 -11.40L28.50 -13.71L27.74 -15.27L26.97 -15.94L24.77 -16.69ZM19.13 -6.03L20.42 -7.30L22.78 -8.05L25.30 -7.30L26.59 -6.03L27.05 -5.14L27.05 -3.05L26.59 -2.16L26.06 -1.64L24.23 -1.04L21.49 -1.04L19.66 -1.64L19.13 -2.16L18.59 -3.28L18.59 -4.92ZM19.35 -13.11L19.89 -14.08L21.26 -14.53L24.23 -14.60L25.98 -13.93L26.37 -13.11L26.37 -12.22L25.98 -11.40L25.68 -11.10L24.46 -10.58L22.78 -10.21L21.26 -10.58L20.04 -11.10L19.43 -11.99ZM13.26 -16.69L1.98 -16.69L1.68 -16.54L1.22 -15.94L1.22 -15.35L1.37 -15.05L1.98 -14.60L11.20 -14.53L4.34 -0.52L4.27 0.30L4.42 0.60L5.03 1.04L5.64 1.04L6.40 0.37L13.94 -15.12L14.02 -15.94L13.87 -16.24Z"/>
<path fill="#000" transform="translate(588.59 645.60)" d="M64.47 -2.53L63.09 -1.34L62.94 -1.04L62.94 -0.45L64.16 0.89L64.47 1.04L65.07 1.04L66.45 -0.15L66.60 -0.45L66.60 -1.04L65.38 -2.38L65.07 -2.53ZM75.06 -16.69L72.54 -15.79L72.16 -15.42L70.56 -12.96L69.80 -9.31L69.80 -6.33L70.56 -2.68L72.16 -0.22L72.85 0.30L75.06 1.04L77.34 1.04L79.86 0.15L80.24 -0.22L81.84 -2.68L82.60 -6.33L82.60 -9.31L81.84 -12.96L80.24 -15.42L79.55 -15.94L77.34 -16.69ZM75.67 -14.60L76.81 -14.60L78.64 -13.93L79.78 -12.22L80.47 -8.87L80.47 -6.85L79.78 -3.43L78.56 -1.64L76.81 -1.04L75.59 -1.04L73.76 -1.71L72.62 -3.43L71.93 -6.85L71.93 -8.79L72.62 -12.22L73.84 -14.01ZM53.80 -16.69L53.49 -16.54L51.13 -14.23L49.68 -13.56L49.23 -12.96L49.23 -12.37L49.68 -11.77L49.99 -11.62L50.60 -11.62L52.20 -12.37L52.96 -13.04L53.04 -12.96L53.04 0.30L53.49 0.89L53.80 1.04L54.41 1.04L54.71 0.89L55.17 0.30L55.17 -15.94L54.71 -16.54L54.41 -16.69ZM36.96 -16.69L34.44 -15.79L34.06 -15.42L32.46 -12.96L31.70 -9.31L31.70 -6.33L32.46 -2.68L34.06 -0.22L34.75 0.30L36.96 1.04L39.24 1.04L41.76 0.15L42.14 -0.22L43.74 -2.68L44.50 -6.33L44.50 -9.31L43.74 -12.96L42.14 -15.42L41.45 -15.94L39.24 -16.69ZM37.57 -14.60L38.71 -14.60L40.54 -13.93L41.68 -12.22L42.37 -8.87L42.37 -6.85L41.68 -3.43L40.46 -1.64L38.71 -1.04L37.49 -1.04L35.66 -1.71L34.52 -3.43L33.83 -6.85L33.83 -8.79L34.52 -12.22L35.74 -14.01ZM20.96 -16.69L18.44 -15.79L17.98 -15.27L17.22 -13.71L17.30 -11.40L18.14 -9.83L19.20 -9.09L17.37 -7.30L16.54 -5.74L16.46 -2.68L17.37 -0.89L18.75 0.30L20.96 1.04L24.77 1.04L27.28 0.15L28.35 -0.89L29.26 -2.68L29.18 -5.74L28.35 -7.30L26.52 -9.09L27.58 -9.83L28.42 -11.40L28.50 -13.71L27.74 -15.27L26.97 -15.94L24.77 -16.69ZM19.13 -6.03L20.42 -7.30L22.78 -8.05L25.30 -7.30L26.59 -6.03L27.05 -5.14L27.05 -3.05L26.59 -2.16L26.06 -1.64L24.23 -1.04L21.49 -1.04L19.66 -1.64L19.13 -2.16L18.59 -3.28L18.59 -4.92ZM19.35 -13.11L19.89 -14.08L21.26 -14.53L24.23 -14.60L25.98 -13.93L26.37 -13.11L26.37 -12.22L25.98 -11.40L25.68 -11.10L24.46 -10.58L22.78 -10.21L21.26 -10.58L20.04 -11.10L19.43 -11.99ZM13.26 -16.69L1.98 -16.69L1.68 -16.54L1.22 -15.94L1.22 -15.35L1.37 -15.05L1.98 -14.60L11.20 -14.53L4.34 -0.52L4.27 0.30L4.42 0.60L5.03 1.04L5.64 1.04L6.40 0.37L13.94 -15.12L14.02 -15.94L13.87 -16.24Z"/>
<path fill="#000" transform="translate(47.88 110.05)" d="M18.75 -2.53L17.37 -1.34L17.22 -1.04L17.22 -0.45L18.44 0.89L18.75 1.04L19.35 1.04L20.73 -0.15L20.88 -0.45L20.88 -1.04L19.66 -2.38L19.35 -2.53ZM44.58 -16.69L42.06 -15.79L41.68 -15.42L40.08 -12.96L39.32 -9.31L39.32 -6.33L40.08 -2.68L41.68 -0.22L42.37 0.30L44.58 1.04L46.86 1.04L49.38 0.15L49.76 -0.22L51.36 -2.68L52.12 -6.33L52.12 -9.31L51.36 -12.96L49.76 -15.42L49.07 -15.94L46.86 -16.69ZM45.19 -14.60L46.33 -14.60L48.16 -13.93L49.30 -12.22L49.99 -8.87L49.99 -6.85L49.30 -3.43L48.08 -1.64L46.33 -1.04L45.11 -1.04L43.28 -1.71L42.14 -3.43L41.45 -6.85L41.45 -8.79L42.14 -12.22L43.36 -14.01ZM29.34 -16.69L26.82 -15.79L26.44 -15.42L24.84 -12.96L24.08 -9.31L24.08 -6.33L24.84 -2.68L26.44 -0.22L27.13 0.30L29.34 1.04L31.62 1.04L34.14 0.15L34.52 -0.22L36.12 -2.68L36.88 -6.33L36.88 -9.31L36.12 -12.96L34.52 -15.42L33.83 -15.94L31.62 -16.69ZM29.95 -14.60L31.09 -14.60L32.92 -13.93L34.06 -12.22L34.75 -8.87L34.75 -6.85L34.06 -3.43L32.84 -1.64L31.09 -1.04L29.87 -1.04L28.04 -1.71L26.90 -3.43L26.21 -6.85L26.21 -8.79L26.90 -12.22L28.12 -14.01ZM8.08 -16.69L7.77 -16.54L5.41 -14.23L3.96 -13.56L3.51 -12.96L3.51 -12.37L3.96 -11.77L4.27 -11.62L4.88 -11.62L6.48 -12.37L7.24 -13.04L7.32 -12.96L7.32 0.30L7.77 0.89L8.08 1.04L8.69 1.04L8.99 0.89L9.45 0.30L9.45 -15.94L8.99 -16.54L8.69 -16.69Z"/>
<path fill="#000" transform="translate(47.88 266.90)" d="M18.75 -2.53L17.37 -1.34L17.22 -1.04L17.22 -0.45L18.44 0.89L18.75 1.04L19.35 1.04L20.73 -0.15L20.88 -0.45L20.88 -1.04L19.66 -2.38L19.35 -2.53ZM43.81 -16.69L41.30 -15.79L40.84 -15.27L40.08 -13.71L40.16 -11.40L41.00 -9.83L42.06 -9.09L40.23 -7.30L39.40 -5.74L39.32 -2.68L40.23 -0.89L41.61 0.30L43.81 1.04L47.62 1.04L50.14 0.15L51.21 -0.89L52.12 -2.68L52.04 -5.74L51.21 -7.30L49.38 -9.09L50.44 -9.83L51.28 -11.40L51.36 -13.71L50.60 -15.27L49.83 -15.94L47.62 -16.69ZM41.99 -6.03L43.28 -7.30L45.64 -8.05L48.16 -7.30L49.45 -6.03L49.91 -5.14L49.91 -3.05L49.45 -2.16L48.92 -1.64L47.09 -1.04L44.35 -1.04L42.52 -1.64L41.99 -2.16L41.45 -3.28L41.45 -4.92ZM42.21 -13.11L42.75 -14.08L44.12 -14.53L47.09 -14.60L48.84 -13.93L49.23 -13.11L49.23 -12.22L48.84 -11.40L48.54 -11.10L47.32 -10.58L45.64 -10.21L44.12 -10.58L42.90 -11.10L42.29 -11.99ZM29.34 -16.69L26.82 -15.79L24.99 -14.01L24.08 -11.55L24.08 -10.06L24.99 -7.60L26.82 -5.81L29.34 -4.92L30.86 -4.92L33.07 -5.66L33.76 -6.18L33.83 -6.11L33.30 -3.43L32.16 -1.71L30.33 -1.04L29.11 -1.04L27.51 -1.56L26.82 -2.83L26.21 -3.28L25.60 -3.28L25.30 -3.13L24.84 -2.53L24.92 -1.71L25.60 -0.37L26.06 0.15L28.57 1.04L30.86 1.04L33.38 0.15L33.76 -0.22L35.36 -2.68L36.12 -6.33L36.12 -10.80L35.20 -14.01L33.38 -15.79L30.86 -16.69ZM29.87 -14.60L30.33 -14.60L32.16 -14.01L33.30 -12.89L33.91 -10.65L33.38 -8.79L32.16 -7.60L30.33 -7.00L29.87 -7.00L28.04 -7.60L26.82 -8.79L26.21 -10.58L26.21 -11.03L26.82 -12.81L28.04 -14.01ZM6.48 -16.69L3.96 -15.79L3.58 -15.42L1.98 -12.96L1.22 -9.31L1.22 -6.33L1.98 -2.68L3.58 -0.22L4.27 0.30L6.48 1.04L8.76 1.04L11.28 0.15L11.66 -0.22L13.26 -2.68L14.02 -6.33L14.02 -9.31L13.26 -12.96L11.66 -15.42L10.97 -15.94L8.76 -16.69ZM7.09 -14.60L8.23 -14.60L10.06 -13.93L11.20 -12.22L11.89 -8.87L11.89 -6.85L11.20 -3.43L9.98 -1.64L8.23 -1.04L7.01 -1.04L5.18 -1.71L4.04 -3.43L3.35 -6.85L3.35 -8.79L4.04 -12.22L5.26 -14.01Z"/>
<path fill="#000" transform="translate(47.88 423.75)" d="M18.75 -2.53L17.37 -1.34L17.22 -1.04L17.22 -0.45L18.44 0.89L18.75 1.04L19.35 1.04L20.73 -0.15L20.88 -0.45L20.88 -1.04L19.66 -2.38L19.35 -2.53ZM45.34 -16.69L42.82 -15.79L42.44 -15.42L40.84 -12.96L40.08 -9.31L40.08 -4.84L41.00 -1.64L42.82 0.15L45.34 1.04L46.86 1.04L49.38 0.15L51.21 -1.64L52.12 -4.10L52.12 -5.59L51.21 -8.05L49.38 -9.83L46.86 -10.73L45.34 -10.73L43.13 -9.98L42.44 -9.46L42.37 -9.54L42.90 -12.22L44.04 -13.93L45.87 -14.60L47.09 -14.60L48.69 -14.08L49.38 -12.81L49.99 -12.37L50.60 -12.37L50.90 -12.52L51.36 -13.11L51.28 -13.93L50.60 -15.27L50.14 -15.79L47.62 -16.69ZM45.87 -8.64L46.33 -8.64L48.16 -8.05L49.38 -6.85L49.99 -5.07L49.99 -4.62L49.38 -2.83L48.16 -1.64L46.33 -1.04L45.87 -1.04L44.04 -1.64L42.90 -2.76L42.29 -4.99L42.82 -6.85L44.04 -8.05ZM29.34 -16.69L26.82 -15.79L24.99 -14.01L24.08 -11.55L24.08 -10.06L24.99 -7.60L26.82 -5.81L29.34 -4.92L30.86 -4.92L33.07 -5.66L33.76 -6.18L33.83 -6.11L33.30 -3.43L32.16 -1.71L30.33 -1.04L29.11 -1.04L27.51 -1.56L26.82 -2.83L26.21 -3.28L25.60 -3.28L25.30 -3.13L24.84 -2.53L24.92 -1.71L25.60 -0.37L26.06 0.15L28.57 1.04L30.86 1.04L33.38 0.15L33.76 -0.22L35.36 -2.68L36.12 -6.33L36.12 -10.80L35.20 -14.01L33.38 -15.79L30.86 -16.69ZM29.87 -14.60L30.33 -14.60L32.16 -14.01L33.30 -12.89L33.91 -10.65L33.38 -8.79L32.16 -7.60L30.33 -7.00L29.87 -7.00L28.04 -7.60L26.82 -8.79L26.21 -10.58L26.21 -11.03L26.82 -12.81L28.04 -14.01ZM6.48 -16.69L3.96 -15.79L3.58 -15.42L1.98 -12.96L1.22 -9.31L1.22 -6.33L1.98 -2.68L3.58 -0.22L4.27 0.30L6.48 1.04L8.76 1.04L11.28 0.15L11.66 -0.22L13.26 -2.68L14.02 -6.33L14.02 -9.31L13.26 -12.96L11.66 -15.42L10.97 -15.94L8.76 -16.69ZM7.09 -14.60L8.23 -14.60L10.06 -13.93L11.20 -12.22L11.89 -8.87L11.89 -6.85L11.20 -3.43L9.98 -1.64L8.23 -1.04L7.01 -1.04L5.18 -1.71L4.04 -3.43L3.35 -6.85L3.35 -8.79L4.04 -12.22L5.26 -14.01Z"/>
<path fill="#000" transform="translate(47.12 580.60)" d="M18.75 -2.53L17.37 -1.34L17.22 -1.04L17.22 -0.45L18.44 0.89L18.75 1.04L19.35 1.04L20.73 -0.15L20.88 -0.45L20.88 -1.04L19.66 -2.38L19.35 -2.53ZM47.70 -16.69L47.02 -16.17L39.32 -5.51L39.32 -4.92L39.47 -4.62L40.08 -4.17L46.86 -4.17L46.94 0.30L47.40 0.89L47.70 1.04L48.31 1.04L48.62 0.89L49.07 0.30L49.07 -4.10L52.12 -4.17L52.73 -4.62L52.88 -4.92L52.88 -5.51L52.73 -5.81L52.12 -6.26L49.07 -6.33L49.07 -15.94L48.62 -16.54L48.31 -16.69ZM46.86 -12.22L46.94 -6.33L42.60 -6.26L42.52 -6.33ZM29.34 -16.69L26.82 -15.79L24.99 -14.01L24.08 -11.55L24.08 -10.06L24.99 -7.60L26.82 -5.81L29.34 -4.92L30.86 -4.92L33.07 -5.66L33.76 -6.18L33.83 -6.11L33.30 -3.43L32.16 -1.71L30.33 -1.04L29.11 -1.04L27.51 -1.56L26.82 -2.83L26.21 -3.28L25.60 -3.28L25.30 -3.13L24.84 -2.53L24.92 -1.71L25.60 -0.37L26.06 0.15L28.57 1.04L30.86 1.04L33.38 0.15L33.76 -0.22L35.36 -2.68L36.12 -6.33L36.12 -10.80L35.20 -14.01L33.38 -15.79L30.86 -16.69ZM29.87 -14.60L30.33 -14.60L32.16 -14.01L33.30 -12.89L33.91 -10.65L33.38 -8.79L32.16 -7.60L30.33 -7.00L29.87 -7.00L28.04 -7.60L26.82 -8.79L26.21 -10.58L26.21 -11.03L26.82 -12.81L28.04 -14.01ZM6.48 -16.69L3.96 -15.79L3.58 -15.42L1.98 -12.96L1.22 -9.31L1.22 -6.33L1.98 -2.68L3.58 -0.22L4.27 0.30L6.48 1.04L8.76 1.04L11.28 0.15L11.66 -0.22L13.26 -2.68L14.02 -6.33L14.02 -9.31L13.26 -12.96L11.66 -15.42L10.97 -15.94L8.76 -16.69ZM7.09 -14.60L8.23 -14.60L10.06 -13.93L11.20 -12.22L11.89 -8.87L11.89 -6.85L11.20 -3.43L9.98 -1.64L8.23 -1.04L7.01 -1.04L5.18 -1.71L4.04 -3.43L3.35 -6.85L3.35 -8.79L4.04 -12.22L5.26 -14.01Z"/>
<path fill="#000" transform="translate(360.84 675.30)" d="M104.70 -11.47L104.09 -11.47L103.78 -11.32L103.33 -10.73L103.10 -10.73L101.65 -11.47L98.53 -11.40L96.93 -10.58L95.10 -8.79L94.18 -6.33L94.18 -4.10L95.10 -1.64L96.93 0.15L98.76 1.04L101.65 1.04L103.10 0.30L103.33 0.37L103.33 1.34L102.72 3.13L102.18 3.65L101.04 4.17L99.36 4.17L97.84 3.43L97.23 3.43L96.62 3.87L96.47 4.17L96.47 4.77L96.62 5.07L97.16 5.51L98.53 6.18L101.65 6.26L103.25 5.51L104.55 4.32L105.46 1.86L105.46 -10.73L105.31 -11.03ZM99.36 -9.39L101.27 -9.31L102.18 -8.87L103.33 -7.75L103.33 -2.68L102.18 -1.56L101.04 -1.04L99.36 -1.04L98.22 -1.56L96.93 -2.83L96.32 -4.62L96.32 -5.81L96.93 -7.60L98.22 -8.87ZM80.92 -11.32L80.47 -10.73L80.47 0.30L80.62 0.60L81.23 1.04L81.84 1.04L82.14 0.89L82.60 0.30L82.60 -7.00L84.51 -8.87L85.65 -9.39L87.33 -9.39L88.32 -8.87L88.85 -7.30L88.85 0.30L89.00 0.60L89.61 1.04L90.22 1.04L90.53 0.89L90.98 0.30L90.98 -7.82L90.07 -10.28L89.53 -10.73L87.93 -11.47L85.04 -11.47L83.44 -10.73L82.68 -10.06L82.60 -10.73L82.14 -11.32L81.84 -11.47L81.23 -11.47ZM70.56 -11.47L68.73 -10.58L66.90 -8.79L65.99 -6.33L65.99 -4.10L66.90 -1.64L68.73 0.15L70.56 1.04L73.46 1.04L75.29 0.15L77.11 -1.64L77.27 -1.94L77.27 -2.53L77.11 -2.83L76.50 -3.28L75.90 -3.28L75.59 -3.13L73.99 -1.56L73.08 -1.12L71.17 -1.04L70.03 -1.56L68.73 -2.83L68.12 -4.84L76.50 -4.92L76.81 -5.07L77.27 -5.66L77.27 -7.75L76.35 -9.54L75.06 -10.73L73.46 -11.47ZM68.58 -7.15L68.73 -7.60L70.03 -8.87L71.17 -9.39L72.85 -9.39L73.99 -8.87L74.60 -8.27L75.13 -7.08L68.66 -7.00ZM50.75 -11.47L48.92 -10.58L47.09 -8.79L46.18 -6.33L46.18 -4.10L47.09 -1.64L48.92 0.15L50.75 1.04L53.64 1.04L55.47 0.15L57.30 -1.64L57.45 -1.94L57.45 -2.53L57.30 -2.83L56.69 -3.28L56.08 -3.28L55.78 -3.13L54.18 -1.56L53.26 -1.12L51.36 -1.04L50.22 -1.56L48.92 -2.83L48.31 -4.84L56.69 -4.92L57.00 -5.07L57.45 -5.66L57.45 -7.75L56.54 -9.54L55.24 -10.73L53.64 -11.47ZM48.77 -7.15L48.92 -7.60L50.22 -8.87L51.36 -9.39L53.04 -9.39L54.18 -8.87L54.79 -8.27L55.32 -7.08L48.84 -7.00ZM33.99 -11.47L33.68 -11.32L33.22 -10.73L33.30 -9.91L37.80 0.37L38.25 0.89L38.56 1.04L39.17 1.04L39.93 0.37L44.42 -9.91L44.50 -10.73L44.35 -11.03L43.74 -11.47L43.13 -11.47L42.52 -11.03L38.86 -2.76L35.20 -11.03L34.59 -11.47ZM22.48 -10.73L20.42 -8.79L19.51 -6.33L19.51 -4.10L20.42 -1.64L22.25 0.15L24.08 1.04L26.97 1.04L28.42 0.30L28.65 0.30L28.80 0.60L29.41 1.04L30.02 1.04L30.33 0.89L30.78 0.30L30.78 -10.73L30.63 -11.03L30.02 -11.47L29.41 -11.47L29.11 -11.32L28.65 -10.73L28.42 -10.73L26.97 -11.47L24.08 -11.47ZM24.69 -9.39L26.59 -9.31L27.51 -8.87L28.65 -7.75L28.65 -2.68L27.51 -1.56L26.37 -1.04L24.69 -1.04L23.55 -1.56L22.25 -2.83L21.64 -4.62L21.64 -5.81L22.25 -7.60L23.55 -8.87ZM148.29 -16.69L147.52 -16.02L141.50 -0.52L141.43 0.30L141.58 0.60L142.19 1.04L142.80 1.04L143.41 0.60L145.31 -4.17L151.87 -4.17L153.77 0.60L154.38 1.04L154.99 1.04L155.30 0.89L155.75 0.30L155.68 -0.52L149.66 -16.02L149.20 -16.54L148.89 -16.69ZM148.59 -12.59L150.95 -6.71L150.95 -6.26L146.15 -6.33ZM119.02 -16.54L118.57 -15.94L118.57 0.30L118.72 0.60L119.33 1.04L119.94 1.04L120.24 0.89L120.70 0.30L120.70 -7.00L122.61 -8.87L123.75 -9.39L125.43 -9.39L126.42 -8.87L126.95 -7.30L126.95 0.30L127.10 0.60L127.71 1.04L128.32 1.04L128.63 0.89L129.08 0.30L129.08 -7.82L128.17 -10.28L127.64 -10.73L126.03 -11.47L123.14 -11.47L121.54 -10.73L120.78 -10.06L120.70 -15.94L120.55 -16.24L119.94 -16.69L119.33 -16.69ZM110.95 -16.69L110.64 -16.54L110.19 -15.94L110.19 -11.55L108.66 -11.47L108.36 -11.32L107.90 -10.73L107.90 -10.13L108.05 -9.83L108.66 -9.39L110.19 -9.31L110.19 -2.61L111.10 -0.15L111.63 0.30L113.23 1.04L115.37 1.04L115.67 0.89L116.13 0.30L116.13 -0.30L115.98 -0.60L115.37 -1.04L113.84 -1.04L113.00 -1.42L112.32 -3.13L112.32 -9.31L114.60 -9.39L115.21 -9.83L115.37 -10.13L115.37 -10.73L115.21 -11.03L114.60 -11.47L112.32 -11.55L112.32 -15.94L111.86 -16.54L111.56 -16.69ZM61.42 -16.69L61.11 -16.54L60.66 -15.94L60.66 0.30L61.11 0.89L61.42 1.04L62.03 1.04L62.33 0.89L62.79 0.30L62.79 -15.94L62.33 -16.54L62.03 -16.69ZM0.91 -16.54L0.46 -15.94L0.46 -15.27L4.42 0.60L5.03 1.04L5.64 1.04L5.94 0.89L6.40 0.30L9.14 -10.88L11.89 0.30L12.04 0.60L12.65 1.04L13.26 1.04L13.56 0.89L14.02 0.30L17.83 -15.27L17.83 -15.94L17.68 -16.24L17.07 -16.69L16.46 -16.69L16.15 -16.54L15.70 -15.94L12.95 -4.77L10.21 -15.94L10.06 -16.24L9.45 -16.69L8.84 -16.69L8.53 -16.54L8.08 -15.94L5.33 -4.77L2.59 -15.94L2.44 -16.24L1.83 -16.69L1.22 -16.69ZM157.43 -19.67L156.82 -19.22L156.67 -18.92L156.67 -18.33L156.82 -18.03L158.42 -16.46L159.94 -14.23L161.32 -11.47L162.00 -8.12L162.00 -5.36L161.24 -1.71L159.94 0.82L158.65 2.76L156.67 4.92L156.67 5.51L156.82 5.81L157.43 6.26L158.04 6.26L158.34 6.11L160.25 4.25L161.85 1.86L163.30 -0.97L164.13 -4.84L164.13 -8.57L163.37 -12.22L161.85 -15.27L160.25 -17.66L158.34 -19.52L158.04 -19.67ZM139.14 -19.67L138.84 -19.52L136.93 -17.66L135.33 -15.27L133.88 -12.44L133.05 -8.57L133.05 -4.84L133.81 -1.19L135.33 1.86L136.93 4.25L138.84 6.11L139.14 6.26L139.75 6.26L140.36 5.81L140.51 5.51L140.51 4.92L140.36 4.62L138.76 3.05L137.24 0.82L135.86 -1.94L135.18 -5.36L135.18 -8.05L135.94 -11.70L137.24 -14.23L138.53 -16.17L140.51 -18.33L140.51 -18.92L140.36 -19.22L139.75 -19.67Z"/>
<circle cx="509.2" cy="655.9" r="1.55" fill="none" stroke="#000" stroke-width="1.8"/>
<path fill="#000" transform="translate(25.20 317.50) rotate(-90) translate(-101.73 0)" d="M201.02 -11.32L200.71 -11.47L200.10 -11.47L199.49 -11.03L195.83 -2.76L192.18 -11.03L191.57 -11.47L190.96 -11.47L190.35 -11.03L190.20 -10.73L190.27 -9.91L194.46 -0.52L194.61 0.07L193.47 2.31L192.10 3.65L190.96 4.17L190.20 4.17L189.59 4.62L189.43 4.92L189.43 5.51L189.89 6.11L190.20 6.26L191.57 6.26L193.17 5.51L195.38 3.35L196.90 0.37L201.40 -9.91L201.47 -10.73ZM177.24 -11.47L176.94 -11.32L176.48 -10.73L176.48 0.30L176.94 0.89L177.24 1.04L177.85 1.04L178.16 0.89L178.61 0.30L178.61 -10.73L178.16 -11.32L177.85 -11.47ZM166.50 -11.47L164.29 -10.73L163.68 -10.28L162.76 -8.49L162.84 -7.67L163.53 -6.33L163.98 -5.81L165.81 -4.92L169.16 -4.32L170.46 -3.80L171.07 -2.91L171.07 -2.31L170.61 -1.56L169.01 -1.04L167.03 -1.04L165.43 -1.56L164.90 -2.61L164.44 -3.13L164.13 -3.28L163.53 -3.28L162.92 -2.83L162.76 -2.53L162.76 -1.94L163.53 -0.37L164.29 0.30L166.50 1.04L169.55 1.04L171.75 0.30L172.36 -0.15L173.28 -1.94L173.20 -3.50L172.52 -4.84L171.83 -5.51L170.23 -6.26L166.34 -7.00L165.58 -7.38L165.28 -7.67L165.05 -8.27L165.43 -8.87L167.03 -9.39L169.01 -9.39L170.61 -8.87L171.15 -7.82L171.60 -7.30L171.91 -7.15L172.52 -7.15L173.13 -7.60L173.28 -7.90L173.28 -8.49L172.52 -10.06L171.75 -10.73L169.55 -11.47ZM149.50 -11.32L149.05 -10.73L149.05 0.30L149.20 0.60L149.81 1.04L150.42 1.04L150.72 0.89L151.18 0.30L151.18 -7.00L153.09 -8.87L154.23 -9.39L155.91 -9.39L156.90 -8.87L157.43 -7.30L157.43 0.30L157.58 0.60L158.19 1.04L158.80 1.04L159.11 0.89L159.56 0.30L159.56 -7.82L158.65 -10.28L158.12 -10.73L156.51 -11.47L153.62 -11.47L152.02 -10.73L151.26 -10.06L151.18 -10.73L150.72 -11.32L150.42 -11.47L149.81 -11.47ZM139.14 -11.47L137.31 -10.58L135.48 -8.79L134.57 -6.33L134.57 -4.10L135.48 -1.64L137.31 0.15L139.14 1.04L142.04 1.04L143.87 0.15L145.69 -1.64L145.85 -1.94L145.85 -2.53L145.69 -2.83L145.08 -3.28L144.48 -3.28L144.17 -3.13L142.57 -1.56L141.66 -1.12L139.75 -1.04L138.61 -1.56L137.31 -2.83L136.70 -4.84L145.08 -4.92L145.39 -5.07L145.85 -5.66L145.85 -7.75L144.93 -9.54L143.64 -10.73L142.04 -11.47ZM137.16 -7.15L137.31 -7.60L138.61 -8.87L139.75 -9.39L141.43 -9.39L142.57 -8.87L143.18 -8.27L143.71 -7.08L137.24 -7.00ZM112.17 -11.32L111.71 -10.73L111.71 0.30L111.86 0.60L112.47 1.04L113.08 1.04L113.39 0.89L113.84 0.30L113.84 -7.00L115.75 -8.87L116.89 -9.39L118.57 -9.39L119.56 -8.87L120.09 -7.30L120.09 0.30L120.24 0.60L120.85 1.04L121.46 1.04L121.77 0.89L122.22 0.30L122.22 -7.82L121.31 -10.28L120.78 -10.73L119.18 -11.47L116.28 -11.47L114.68 -10.73L113.92 -10.06L113.84 -10.73L113.39 -11.32L113.08 -11.47L112.47 -11.47ZM83.52 -11.47L81.69 -10.58L79.86 -8.79L78.94 -6.33L78.94 -4.10L79.86 -1.64L81.69 0.15L83.52 1.04L86.41 1.04L88.24 0.15L90.07 -1.64L90.22 -1.94L90.22 -2.53L90.07 -2.83L89.46 -3.28L88.85 -3.28L88.54 -3.13L86.94 -1.56L86.03 -1.12L84.12 -1.04L82.98 -1.56L81.69 -2.83L81.08 -4.84L89.46 -4.92L89.76 -5.07L90.22 -5.66L90.22 -7.75L89.31 -9.54L88.01 -10.73L86.41 -11.47ZM81.53 -7.15L81.69 -7.60L82.98 -8.87L84.12 -9.39L85.80 -9.39L86.94 -8.87L87.55 -8.27L88.09 -7.08L81.61 -7.00ZM66.75 -11.47L66.45 -11.32L65.99 -10.73L66.07 -9.91L70.56 0.37L71.02 0.89L71.32 1.04L71.93 1.04L72.69 0.37L77.19 -9.91L77.27 -10.73L77.11 -11.03L76.50 -11.47L75.90 -11.47L75.29 -11.03L71.63 -2.76L67.97 -11.03L67.36 -11.47ZM62.18 -11.47L61.87 -11.32L61.42 -10.73L61.42 0.30L61.87 0.89L62.18 1.04L62.79 1.04L63.09 0.89L63.55 0.30L63.55 -10.73L63.09 -11.32L62.79 -11.47ZM40.01 -10.73L37.95 -8.79L37.03 -6.33L37.03 -4.10L37.95 -1.64L39.78 0.15L41.61 1.04L44.50 1.04L45.95 0.30L46.18 0.30L46.33 0.60L46.94 1.04L47.55 1.04L47.85 0.89L48.31 0.30L48.31 -10.73L48.16 -11.03L47.55 -11.47L46.94 -11.47L46.63 -11.32L46.18 -10.73L45.95 -10.73L44.50 -11.47L41.61 -11.47ZM42.21 -9.39L44.12 -9.31L45.03 -8.87L46.18 -7.75L46.18 -2.68L45.03 -1.56L43.89 -1.04L42.21 -1.04L41.07 -1.56L39.78 -2.83L39.17 -4.62L39.17 -5.81L39.78 -7.60L41.07 -8.87ZM21.79 -11.47L19.96 -10.58L18.14 -8.79L17.22 -6.33L17.22 -4.10L18.14 -1.64L19.96 0.15L21.79 1.04L24.69 1.04L26.52 0.15L28.35 -1.64L28.50 -1.94L28.50 -2.53L28.35 -2.83L27.74 -3.28L27.13 -3.28L26.82 -3.13L25.22 -1.56L24.31 -1.12L22.40 -1.04L21.26 -1.56L19.96 -2.83L19.35 -4.84L27.74 -4.92L28.04 -5.07L28.50 -5.66L28.50 -7.75L27.58 -9.54L26.29 -10.73L24.69 -11.47ZM19.81 -7.15L19.96 -7.60L21.26 -8.87L22.40 -9.39L24.08 -9.39L25.22 -8.87L25.83 -8.27L26.37 -7.08L19.89 -7.00ZM184.10 -16.69L183.79 -16.54L183.34 -15.94L183.34 -11.55L181.81 -11.47L181.51 -11.32L181.05 -10.73L181.05 -10.13L181.20 -9.83L181.81 -9.39L183.34 -9.31L183.34 -2.61L184.25 -0.15L184.78 0.30L186.39 1.04L188.52 1.04L188.82 0.89L189.28 0.30L189.28 -0.30L189.13 -0.60L188.52 -1.04L186.99 -1.04L186.16 -1.42L185.47 -3.13L185.47 -9.31L187.76 -9.39L188.37 -9.83L188.52 -10.13L188.52 -10.73L188.37 -11.03L187.76 -11.47L185.47 -11.55L185.47 -15.94L185.01 -16.54L184.71 -16.69ZM127.71 -16.69L127.41 -16.54L126.95 -15.94L126.95 -11.55L125.43 -11.47L125.12 -11.32L124.66 -10.73L124.66 -10.13L124.82 -9.83L125.43 -9.39L126.95 -9.31L126.95 -2.61L127.86 -0.15L128.40 0.30L130.00 1.04L132.13 1.04L132.44 0.89L132.89 0.30L132.89 -0.30L132.74 -0.60L132.13 -1.04L130.61 -1.04L129.77 -1.42L129.08 -3.13L129.08 -9.31L131.37 -9.39L131.98 -9.83L132.13 -10.13L132.13 -10.73L131.98 -11.03L131.37 -11.47L129.08 -11.55L129.08 -15.94L128.63 -16.54L128.32 -16.69ZM106.38 -16.69L106.07 -16.54L105.61 -15.94L105.61 0.30L106.07 0.89L106.38 1.04L106.98 1.04L107.29 0.89L107.75 0.30L107.75 -15.94L107.29 -16.54L106.98 -16.69ZM53.80 -16.69L53.49 -16.54L53.04 -15.94L53.04 -11.55L51.51 -11.47L51.21 -11.32L50.75 -10.73L50.75 -10.13L50.90 -9.83L51.51 -9.39L53.04 -9.31L53.04 -2.61L53.95 -0.15L54.48 0.30L56.08 1.04L58.22 1.04L58.52 0.89L58.98 0.30L58.98 -0.30L58.83 -0.60L58.22 -1.04L56.69 -1.04L55.85 -1.42L55.17 -3.13L55.17 -9.31L57.45 -9.39L58.06 -9.83L58.22 -10.13L58.22 -10.73L58.06 -11.03L57.45 -11.47L55.17 -11.55L55.17 -15.94L54.71 -16.54L54.41 -16.69ZM32.46 -16.69L32.16 -16.54L31.70 -15.94L31.70 0.30L32.16 0.89L32.46 1.04L33.07 1.04L33.38 0.89L33.83 0.30L33.83 -15.94L33.38 -16.54L33.07 -16.69ZM2.44 -16.54L1.98 -15.94L1.98 0.30L2.13 0.60L2.74 1.04L3.35 1.04L3.66 0.89L4.11 0.30L4.11 -7.08L7.77 -7.15L12.80 0.60L13.41 1.04L14.02 1.04L14.33 0.89L14.78 0.30L14.78 -0.30L10.36 -7.08L10.52 -7.30L12.80 -8.05L13.87 -9.09L14.71 -10.65L14.78 -12.96L14.02 -14.53L12.80 -15.79L10.29 -16.69L2.74 -16.69ZM4.11 -14.53L9.75 -14.60L11.58 -14.01L12.12 -13.48L12.57 -12.59L12.57 -11.25L12.12 -10.36L11.58 -9.83L9.75 -9.24L4.19 -9.24ZM177.24 -17.43L175.87 -16.24L175.72 -15.94L175.72 -15.35L176.94 -14.01L177.24 -13.86L177.85 -13.86L179.22 -15.05L179.37 -15.35L179.37 -15.94L178.16 -17.28L177.85 -17.43ZM62.18 -17.43L60.81 -16.24L60.66 -15.94L60.66 -15.35L61.87 -14.01L62.18 -13.86L62.79 -13.86L64.16 -15.05L64.31 -15.35L64.31 -15.94L63.09 -17.28L62.79 -17.43Z"/>
<path fill="#000" transform="translate(554.90 336.70)" d="M123.20 -2.17L122.18 -1.30L121.92 -0.87L121.92 -0.37L122.18 0.06L122.82 0.68L123.26 0.93L123.78 0.93L124.22 0.68L124.86 0.06L125.12 -0.37L125.12 -0.87L124.86 -1.30L124.16 -1.98L123.84 -2.17ZM82.24 -3.97L82.24 -3.47L82.37 -3.22L82.94 -2.79L94.98 -2.79L95.23 -2.91L95.68 -3.47L95.68 -3.97L95.55 -4.22L94.98 -4.65L82.94 -4.65L82.69 -4.53ZM82.24 -7.69L82.24 -7.19L82.37 -6.94L82.94 -6.51L94.98 -6.51L95.23 -6.63L95.68 -7.19L95.68 -7.69L95.55 -7.94L94.98 -8.37L82.94 -8.37L82.69 -8.25ZM65.02 -9.61L63.30 -8.74L61.76 -7.13L61.12 -5.27L61.12 -3.41L61.76 -1.55L62.02 -1.18L63.55 0.25L65.02 0.93L67.46 0.93L68.93 0.25L70.46 -1.18L70.72 -1.61L70.72 -2.11L70.59 -2.36L70.02 -2.79L69.50 -2.79L69.06 -2.54L67.84 -1.36L66.94 -0.93L65.54 -0.93L64.64 -1.36L63.55 -2.42L63.04 -3.97L70.02 -4.03L70.27 -4.15L70.72 -4.71L70.72 -6.45L70.02 -7.87L68.93 -8.93L67.46 -9.61ZM63.42 -5.95L63.55 -6.26L64.64 -7.32L65.54 -7.75L66.94 -7.75L67.84 -7.32L68.35 -6.82L68.80 -5.95ZM150.72 -13.95L141.18 -13.95L140.93 -13.83L140.48 -13.27L140.48 -12.77L140.61 -12.52L141.18 -12.09L148.80 -12.03L143.10 -0.43L143.04 0.25L143.17 0.50L143.74 0.93L144.26 0.93L144.90 0.43L151.36 -12.71L151.36 -13.33L151.17 -13.64ZM133.50 -13.95L133.06 -13.70L131.20 -11.90L130.11 -11.41L129.60 -10.79L129.60 -10.29L130.05 -9.73L130.30 -9.61L130.82 -9.61L132.29 -10.29L132.74 -10.66L132.80 -10.60L132.80 0.25L133.25 0.81L133.50 0.93L134.02 0.93L134.27 0.81L134.72 0.25L134.72 -13.27L134.27 -13.83L134.02 -13.95ZM112.96 -13.95L110.85 -13.21L110.53 -12.96L109.25 -11.10L108.48 -7.75L108.48 -5.27L109.12 -2.23L110.53 -0.06L111.04 0.31L112.96 0.93L114.88 0.93L116.99 0.19L117.31 -0.06L118.59 -1.92L119.36 -5.27L119.36 -7.75L118.72 -10.79L117.31 -12.96L116.80 -13.33L114.88 -13.95ZM113.47 -12.09L114.62 -12.03L115.78 -11.66L116.86 -10.11L117.44 -7.32L117.44 -5.70L116.86 -2.91L115.78 -1.36L114.37 -0.93L113.22 -0.99L112.06 -1.36L110.98 -2.91L110.40 -5.70L110.40 -7.32L110.98 -10.11L112.06 -11.66ZM60.03 -13.83L59.78 -13.95L50.88 -13.95L50.30 -13.45L50.24 0.25L50.69 0.81L50.94 0.93L51.46 0.93L51.71 0.81L52.16 0.25L52.16 -5.83L56.58 -5.89L56.83 -6.01L57.28 -6.57L57.28 -7.07L57.15 -7.32L56.58 -7.75L52.16 -7.81L52.16 -12.03L59.78 -12.09L60.03 -12.21L60.48 -12.77L60.48 -13.27ZM24.70 -13.95L24.45 -13.83L24.00 -13.27L24.00 0.25L24.13 0.50L24.70 0.93L25.22 0.93L25.47 0.81L25.92 0.31L27.26 0.93L29.70 0.93L31.42 0.06L32.96 -1.55L33.60 -3.41L33.60 -5.27L32.96 -7.13L32.70 -7.50L31.17 -8.93L29.70 -9.61L27.26 -9.61L25.98 -8.99L25.92 -9.05L25.92 -13.27L25.47 -13.83L25.22 -13.95ZM27.78 -7.75L29.18 -7.75L30.08 -7.32L31.17 -6.26L31.68 -4.77L31.68 -3.91L31.17 -2.42L30.08 -1.36L29.18 -0.93L27.78 -0.93L26.88 -1.36L25.92 -2.29L25.92 -6.39L26.88 -7.32ZM11.07 -13.89L10.56 -13.33L10.56 0.25L10.69 0.50L11.26 0.93L11.78 0.93L12.03 0.81L12.48 0.25L12.48 -5.83L15.42 -5.89L19.58 0.43L20.22 0.93L20.74 0.93L20.99 0.81L21.44 0.25L21.44 -0.25L21.31 -0.56L17.73 -5.95L19.52 -6.51L19.90 -6.76L20.74 -7.63L21.38 -8.87L21.44 -10.79L20.74 -12.21L19.90 -13.08L19.52 -13.33L17.60 -13.95ZM12.48 -12.03L17.09 -12.09L18.50 -11.66L19.07 -11.16L19.52 -10.29L19.52 -9.55L19.07 -8.68L18.62 -8.25L17.34 -7.81L12.54 -7.75ZM73.34 -16.43L73.09 -16.31L72.64 -15.75L72.64 -15.25L73.09 -14.69L73.34 -14.57L77.12 -14.51L77.12 3.35L73.34 3.41L72.77 3.84L72.64 4.09L72.64 4.59L72.77 4.84L73.34 5.27L78.40 5.27L78.72 5.08L79.04 4.65L79.04 -15.81L78.85 -16.12L78.40 -16.43ZM47.87 -16.31L47.62 -16.43L47.10 -16.43L46.46 -15.93L34.88 4.09L34.88 4.59L35.33 5.15L35.58 5.27L36.10 5.27L36.74 4.77L48.32 -15.25L48.32 -15.75ZM2.24 -16.43L1.92 -16.24L1.60 -15.81L1.60 4.65L1.79 4.96L2.24 5.27L7.30 5.27L7.55 5.15L8.00 4.59L8.00 4.09L7.55 3.53L7.30 3.41L3.52 3.35L3.52 -14.51L7.30 -14.57L7.87 -15.00L8.00 -15.25L8.00 -15.75L7.87 -16.00L7.30 -16.43Z"/>
<path fill="#000" transform="translate(554.90 375.90)" d="M129.60 -2.17L128.58 -1.30L128.32 -0.87L128.32 -0.37L128.58 0.06L129.22 0.68L129.66 0.93L130.18 0.93L130.62 0.68L131.26 0.06L131.52 -0.37L131.52 -0.87L131.26 -1.30L130.56 -1.98L130.24 -2.17ZM82.24 -3.97L82.24 -3.47L82.37 -3.22L82.94 -2.79L94.98 -2.79L95.23 -2.91L95.68 -3.47L95.68 -3.97L95.55 -4.22L94.98 -4.65L82.94 -4.65L82.69 -4.53ZM98.88 -5.83L98.88 -5.33L99.01 -5.08L99.58 -4.65L111.62 -4.65L111.87 -4.77L112.32 -5.33L112.32 -5.83L112.19 -6.08L111.62 -6.51L99.58 -6.51L99.33 -6.39ZM82.24 -7.69L82.24 -7.19L82.37 -6.94L82.94 -6.51L94.98 -6.51L95.23 -6.63L95.68 -7.19L95.68 -7.69L95.55 -7.94L94.98 -8.37L82.94 -8.37L82.69 -8.25ZM65.02 -9.61L63.30 -8.74L61.76 -7.13L61.12 -5.27L61.12 -3.41L61.76 -1.55L62.02 -1.18L63.55 0.25L65.02 0.93L67.46 0.93L68.93 0.25L70.46 -1.18L70.72 -1.61L70.72 -2.11L70.59 -2.36L70.02 -2.79L69.50 -2.79L69.06 -2.54L67.84 -1.36L66.94 -0.93L65.54 -0.93L64.64 -1.36L63.55 -2.42L63.04 -3.97L70.02 -4.03L70.27 -4.15L70.72 -4.71L70.72 -6.45L70.02 -7.87L68.93 -8.93L67.46 -9.61ZM63.42 -5.95L63.55 -6.26L64.64 -7.32L65.54 -7.75L66.94 -7.75L67.84 -7.32L68.35 -6.82L68.80 -5.95ZM148.86 -13.95L148.61 -13.83L148.16 -13.27L148.16 -12.77L148.29 -12.52L148.86 -12.09L154.18 -12.03L151.55 -8.68L151.36 -8.31L151.36 -7.81L151.49 -7.56L152.06 -7.13L153.98 -7.13L154.88 -6.70L155.39 -6.14L155.84 -4.77L155.84 -3.91L155.33 -2.42L154.30 -1.43L152.77 -0.93L151.23 -0.93L149.70 -1.43L149.25 -1.86L148.74 -2.91L148.10 -3.41L147.58 -3.41L147.01 -2.98L146.88 -2.73L146.94 -2.05L147.58 -0.81L148.42 0.06L148.80 0.31L150.72 0.93L153.28 0.93L155.20 0.31L155.58 0.06L157.12 -1.55L157.76 -3.41L157.76 -5.27L157.12 -7.13L156.86 -7.50L155.97 -8.31L154.30 -9.05L156.93 -12.40L157.12 -12.77L157.12 -13.27L156.99 -13.52L156.42 -13.95ZM138.56 -13.95L136.45 -13.21L136.13 -12.96L134.85 -11.10L134.08 -7.75L134.08 -5.27L134.72 -2.23L136.13 -0.06L136.64 0.31L138.56 0.93L140.48 0.93L142.59 0.19L142.91 -0.06L144.19 -1.92L144.96 -5.27L144.96 -7.75L144.32 -10.79L142.91 -12.96L142.40 -13.33L140.48 -13.95ZM139.07 -12.09L140.22 -12.03L141.38 -11.66L142.46 -10.11L143.04 -7.32L143.04 -5.70L142.46 -2.91L141.38 -1.36L139.97 -0.93L138.82 -0.99L137.66 -1.36L136.58 -2.91L136.00 -5.70L136.00 -7.32L136.58 -10.11L137.66 -11.66ZM119.36 -13.95L117.25 -13.21L116.93 -12.96L115.65 -11.10L114.88 -7.75L114.88 -5.27L115.52 -2.23L116.93 -0.06L117.44 0.31L119.36 0.93L121.28 0.93L123.39 0.19L123.71 -0.06L124.99 -1.92L125.76 -5.27L125.76 -7.75L125.12 -10.79L123.71 -12.96L123.20 -13.33L121.28 -13.95ZM119.87 -12.09L121.02 -12.03L122.18 -11.66L123.26 -10.11L123.84 -7.32L123.84 -5.70L123.26 -2.91L122.18 -1.36L120.77 -0.93L119.62 -0.99L118.46 -1.36L117.38 -2.91L116.80 -5.70L116.80 -7.32L117.38 -10.11L118.46 -11.66ZM60.03 -13.83L59.78 -13.95L50.88 -13.95L50.30 -13.45L50.24 0.25L50.69 0.81L50.94 0.93L51.46 0.93L51.71 0.81L52.16 0.25L52.16 -5.83L56.58 -5.89L56.83 -6.01L57.28 -6.57L57.28 -7.07L57.15 -7.32L56.58 -7.75L52.16 -7.81L52.16 -12.03L59.78 -12.09L60.03 -12.21L60.48 -12.77L60.48 -13.27ZM24.70 -13.95L24.45 -13.83L24.00 -13.27L24.00 0.25L24.13 0.50L24.70 0.93L25.22 0.93L25.47 0.81L25.92 0.31L27.26 0.93L29.70 0.93L31.42 0.06L32.96 -1.55L33.60 -3.41L33.60 -5.27L32.96 -7.13L32.70 -7.50L31.17 -8.93L29.70 -9.61L27.26 -9.61L25.98 -8.99L25.92 -9.05L25.92 -13.27L25.47 -13.83L25.22 -13.95ZM27.78 -7.75L29.18 -7.75L30.08 -7.32L31.17 -6.26L31.68 -4.77L31.68 -3.91L31.17 -2.42L30.08 -1.36L29.18 -0.93L27.78 -0.93L26.88 -1.36L25.92 -2.29L25.92 -6.39L26.88 -7.32ZM11.07 -13.89L10.56 -13.33L10.56 0.25L10.69 0.50L11.26 0.93L11.78 0.93L12.03 0.81L12.48 0.25L12.48 -5.83L15.42 -5.89L19.58 0.43L20.22 0.93L20.74 0.93L20.99 0.81L21.44 0.25L21.44 -0.25L21.31 -0.56L17.73 -5.95L19.52 -6.51L19.90 -6.76L20.74 -7.63L21.38 -8.87L21.44 -10.79L20.74 -12.21L19.90 -13.08L19.52 -13.33L17.60 -13.95ZM12.48 -12.03L17.09 -12.09L18.50 -11.66L19.07 -11.16L19.52 -10.29L19.52 -9.55L19.07 -8.68L18.62 -8.25L17.34 -7.81L12.54 -7.75ZM73.34 -16.43L73.09 -16.31L72.64 -15.75L72.64 -15.25L73.09 -14.69L73.34 -14.57L77.12 -14.51L77.12 3.35L73.34 3.41L72.77 3.84L72.64 4.09L72.64 4.59L72.77 4.84L73.34 5.27L78.40 5.27L78.72 5.08L79.04 4.65L79.04 -15.81L78.85 -16.12L78.40 -16.43ZM47.87 -16.31L47.62 -16.43L47.10 -16.43L46.46 -15.93L34.88 4.09L34.88 4.59L35.33 5.15L35.58 5.27L36.10 5.27L36.74 4.77L48.32 -15.25L48.32 -15.75ZM2.24 -16.43L1.92 -16.24L1.60 -15.81L1.60 4.65L1.79 4.96L2.24 5.27L7.30 5.27L7.55 5.15L8.00 4.59L8.00 4.09L7.55 3.53L7.30 3.41L3.52 3.35L3.52 -14.51L7.30 -14.57L7.87 -15.00L8.00 -15.25L8.00 -15.75L7.87 -16.00L7.30 -16.43Z"/>
<path fill="#000" transform="translate(554.90 415.20)" d="M129.60 -2.17L128.58 -1.30L128.32 -0.87L128.32 -0.37L128.58 0.06L129.22 0.68L129.66 0.93L130.18 0.93L130.62 0.68L131.26 0.06L131.52 -0.37L131.52 -0.87L131.26 -1.30L130.56 -1.98L130.24 -2.17ZM82.24 -3.97L82.24 -3.47L82.37 -3.22L82.94 -2.79L94.98 -2.79L95.23 -2.91L95.68 -3.47L95.68 -3.97L95.55 -4.22L94.98 -4.65L82.94 -4.65L82.69 -4.53ZM98.88 -5.83L98.88 -5.33L99.01 -5.08L99.58 -4.65L111.62 -4.65L111.87 -4.77L112.32 -5.33L112.32 -5.83L112.19 -6.08L111.62 -6.51L99.58 -6.51L99.33 -6.39ZM82.24 -7.69L82.24 -7.19L82.37 -6.94L82.94 -6.51L94.98 -6.51L95.23 -6.63L95.68 -7.19L95.68 -7.69L95.55 -7.94L94.98 -8.37L82.94 -8.37L82.69 -8.25ZM65.02 -9.61L63.30 -8.74L61.76 -7.13L61.12 -5.27L61.12 -3.41L61.76 -1.55L62.02 -1.18L63.55 0.25L65.02 0.93L67.46 0.93L68.93 0.25L70.46 -1.18L70.72 -1.61L70.72 -2.11L70.59 -2.36L70.02 -2.79L69.50 -2.79L69.06 -2.54L67.84 -1.36L66.94 -0.93L65.54 -0.93L64.64 -1.36L63.55 -2.42L63.04 -3.97L70.02 -4.03L70.27 -4.15L70.72 -4.71L70.72 -6.45L70.02 -7.87L68.93 -8.93L67.46 -9.61ZM63.42 -5.95L63.55 -6.26L64.64 -7.32L65.54 -7.75L66.94 -7.75L67.84 -7.32L68.35 -6.82L68.80 -5.95ZM148.86 -13.95L148.61 -13.83L148.16 -13.27L148.16 -12.77L148.29 -12.52L148.86 -12.09L154.18 -12.03L151.55 -8.68L151.36 -8.31L151.36 -7.81L151.49 -7.56L152.06 -7.13L153.98 -7.13L154.88 -6.70L155.39 -6.14L155.84 -4.77L155.84 -3.91L155.33 -2.42L154.30 -1.43L152.77 -0.93L151.23 -0.93L149.70 -1.43L149.25 -1.86L148.74 -2.91L148.10 -3.41L147.58 -3.41L147.01 -2.98L146.88 -2.73L146.94 -2.05L147.58 -0.81L148.42 0.06L148.80 0.31L150.72 0.93L153.28 0.93L155.20 0.31L155.58 0.06L157.12 -1.55L157.76 -3.41L157.76 -5.27L157.12 -7.13L156.86 -7.50L155.97 -8.31L154.30 -9.05L156.93 -12.40L157.12 -12.77L157.12 -13.27L156.99 -13.52L156.42 -13.95ZM137.79 -13.89L136.51 -13.27L135.42 -12.21L134.72 -10.79L134.72 -9.67L135.17 -9.11L135.42 -8.99L135.94 -8.99L136.19 -9.11L136.64 -9.67L136.64 -10.29L137.09 -11.16L137.60 -11.66L138.50 -12.09L140.54 -12.09L141.44 -11.66L141.95 -11.16L142.40 -10.29L142.40 -9.55L141.82 -8.43L140.80 -6.94L134.34 -0.68L134.08 -0.25L134.08 0.25L134.21 0.50L134.78 0.93L144.26 0.93L144.51 0.81L144.96 0.25L144.96 -0.25L144.83 -0.50L144.26 -0.93L137.47 -0.99L142.27 -5.64L143.55 -7.50L144.32 -9.05L144.26 -10.97L143.62 -12.21L142.78 -13.08L141.06 -13.95ZM119.36 -13.95L117.25 -13.21L116.93 -12.96L115.65 -11.10L114.88 -7.75L114.88 -5.27L115.52 -2.23L116.93 -0.06L117.44 0.31L119.36 0.93L121.28 0.93L123.39 0.19L123.71 -0.06L124.99 -1.92L125.76 -5.27L125.76 -7.75L125.12 -10.79L123.71 -12.96L123.20 -13.33L121.28 -13.95ZM119.87 -12.09L121.02 -12.03L122.18 -11.66L123.26 -10.11L123.84 -7.32L123.84 -5.70L123.26 -2.91L122.18 -1.36L120.77 -0.93L119.62 -0.99L118.46 -1.36L117.38 -2.91L116.80 -5.70L116.80 -7.32L117.38 -10.11L118.46 -11.66ZM60.03 -13.83L59.78 -13.95L50.88 -13.95L50.30 -13.45L50.24 0.25L50.69 0.81L50.94 0.93L51.46 0.93L51.71 0.81L52.16 0.25L52.16 -5.83L56.58 -5.89L56.83 -6.01L57.28 -6.57L57.28 -7.07L57.15 -7.32L56.58 -7.75L52.16 -7.81L52.16 -12.03L59.78 -12.09L60.03 -12.21L60.48 -12.77L60.48 -13.27ZM24.70 -13.95L24.45 -13.83L24.00 -13.27L24.00 0.25L24.13 0.50L24.70 0.93L25.22 0.93L25.47 0.81L25.92 0.31L27.26 0.93L29.70 0.93L31.42 0.06L32.96 -1.55L33.60 -3.41L33.60 -5.27L32.96 -7.13L32.70 -7.50L31.17 -8.93L29.70 -9.61L27.26 -9.61L25.98 -8.99L25.92 -9.05L25.92 -13.27L25.47 -13.83L25.22 -13.95ZM27.78 -7.75L29.18 -7.75L30.08 -7.32L31.17 -6.26L31.68 -4.77L31.68 -3.91L31.17 -2.42L30.08 -1.36L29.18 -0.93L27.78 -0.93L26.88 -1.36L25.92 -2.29L25.92 -6.39L26.88 -7.32ZM11.07 -13.89L10.56 -13.33L10.56 0.25L10.69 0.50L11.26 0.93L11.78 0.93L12.03 0.81L12.48 0.25L12.48 -5.83L15.42 -5.89L19.58 0.43L20.22 0.93L20.74 0.93L20.99 0.81L21.44 0.25L21.44 -0.25L21.31 -0.56L17.73 -5.95L19.52 -6.51L19.90 -6.76L20.74 -7.63L21.38 -8.87L21.44 -10.79L20.74 -12.21L19.90 -13.08L19.52 -13.33L17.60 -13.95ZM12.48 -12.03L17.09 -12.09L18.50 -11.66L19.07 -11.16L19.52 -10.29L19.52 -9.55L19.07 -8.68L18.62 -8.25L17.34 -7.81L12.54 -7.75ZM73.34 -16.43L73.09 -16.31L72.64 -15.75L72.64 -15.25L73.09 -14.69L73.34 -14.57L77.12 -14.51L77.12 3.35L73.34 3.41L72.77 3.84L72.64 4.09L72.64 4.59L72.77 4.84L73.34 5.27L78.40 5.27L78.72 5.08L79.04 4.65L79.04 -15.81L78.85 -16.12L78.40 -16.43ZM47.87 -16.31L47.62 -16.43L47.10 -16.43L46.46 -15.93L34.88 4.09L34.88 4.59L35.33 5.15L35.58 5.27L36.10 5.27L36.74 4.77L48.32 -15.25L48.32 -15.75ZM2.24 -16.43L1.92 -16.24L1.60 -15.81L1.60 4.65L1.79 4.96L2.24 5.27L7.30 5.27L7.55 5.15L8.00 4.59L8.00 4.09L7.55 3.53L7.30 3.41L3.52 3.35L3.52 -14.51L7.30 -14.57L7.87 -15.00L8.00 -15.25L8.00 -15.75L7.87 -16.00L7.30 -16.43Z"/>
<path fill="#000" transform="translate(554.90 454.00)" d="M18.88 -9.61L17.22 -8.74L15.68 -7.13L15.04 -5.27L15.04 -3.41L15.68 -1.55L15.94 -1.18L17.47 0.25L18.94 0.93L21.38 0.93L23.10 0.06L24.64 -1.55L25.28 -3.41L25.28 -5.27L24.64 -7.13L24.38 -7.50L22.85 -8.93L21.38 -9.61ZM19.46 -7.75L20.86 -7.75L21.76 -7.32L22.85 -6.26L23.36 -4.77L23.36 -3.91L22.85 -2.42L21.76 -1.36L20.86 -0.93L19.46 -0.93L18.56 -1.36L17.47 -2.42L16.96 -3.91L16.96 -4.77L17.47 -6.26L18.56 -7.32ZM52.22 -13.95L51.97 -13.83L51.52 -13.27L51.52 0.25L51.65 0.50L52.22 0.93L52.74 0.93L52.99 0.81L53.44 0.31L54.78 0.93L57.22 0.93L58.94 0.06L60.48 -1.55L61.12 -3.41L61.12 -5.27L60.48 -7.13L60.22 -7.50L58.69 -8.93L57.22 -9.61L54.78 -9.61L53.50 -8.99L53.44 -9.05L53.44 -13.27L52.99 -13.83L52.74 -13.95ZM55.30 -7.75L56.70 -7.75L57.60 -7.32L58.69 -6.26L59.20 -4.77L59.20 -3.91L58.69 -2.42L57.60 -1.36L56.70 -0.93L55.30 -0.93L54.40 -1.36L53.44 -2.29L53.44 -6.39L54.40 -7.32ZM38.59 -13.89L38.08 -13.33L38.08 0.25L38.21 0.50L38.78 0.93L39.30 0.93L39.55 0.81L40.00 0.25L40.00 -5.83L42.94 -5.89L47.10 0.43L47.74 0.93L48.26 0.93L48.51 0.81L48.96 0.25L48.96 -0.25L48.83 -0.56L45.25 -5.95L47.04 -6.51L47.42 -6.76L48.26 -7.63L48.90 -8.87L48.96 -10.79L48.26 -12.21L47.42 -13.08L47.04 -13.33L45.12 -13.95ZM40.00 -12.03L44.61 -12.09L46.02 -11.66L46.59 -11.16L47.04 -10.29L47.04 -9.55L46.59 -8.68L46.14 -8.25L44.86 -7.81L40.06 -7.75ZM2.11 -13.89L1.60 -13.33L1.60 0.25L1.73 0.50L2.30 0.93L2.82 0.93L3.07 0.81L3.52 0.25L3.58 -9.80L10.69 0.56L11.20 0.93L11.97 0.87L12.48 0.31L12.48 -13.27L12.35 -13.52L11.78 -13.95L11.26 -13.95L11.01 -13.83L10.56 -13.27L10.50 -3.22L3.39 -13.58L2.88 -13.95Z"/>
</svg>
</body></html>
